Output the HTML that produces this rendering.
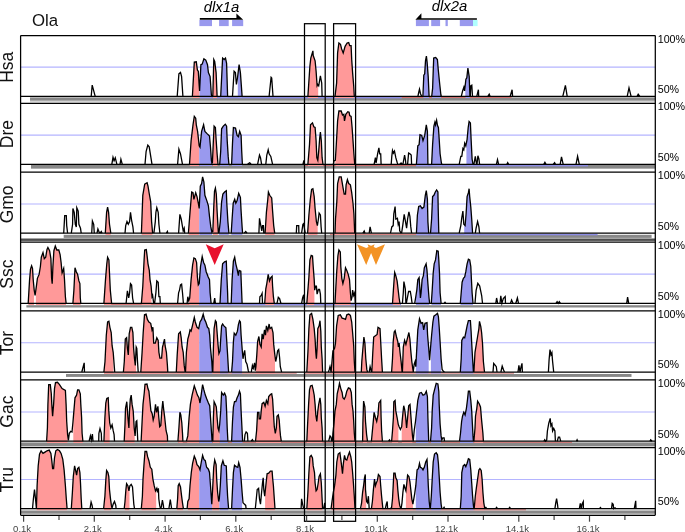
<!DOCTYPE html>
<html><head><meta charset="utf-8"><title>VISTA plot</title>
<style>html,body{margin:0;padding:0;background:#fff}svg{display:block;font-family:"Liberation Sans",Arial,Helvetica,sans-serif}</style></head>
<body>
<svg width="685" height="532" viewBox="0 0 685 532">
<rect width="685" height="532" fill="#fff"/>
<defs><clipPath id="c1k"><rect x="192.4" y="35.5" width="7.2" height="62.6"/><rect x="212.8" y="35.5" width="4.3" height="62.6"/><rect x="307.9" y="35.5" width="10.3" height="62.6"/><rect x="335.0" y="35.5" width="19.3" height="62.6"/></clipPath><clipPath id="c1b"><rect x="199.6" y="35.5" width="12.2" height="62.6"/><rect x="220.7" y="35.5" width="7.0" height="62.6"/><rect x="237.8" y="35.5" width="4.3" height="62.6"/><rect x="423.2" y="35.5" width="5.9" height="62.6"/><rect x="431.7" y="35.5" width="9.6" height="62.6"/><rect x="465.3" y="35.5" width="4.6" height="62.6"/></clipPath><clipPath id="c2k"><rect x="189.5" y="103.3" width="9.7" height="62.8"/><rect x="212.4" y="103.3" width="5.3" height="62.8"/><rect x="307.9" y="103.3" width="15.1" height="62.8"/><rect x="335.3" y="103.3" width="19.5" height="62.8"/></clipPath><clipPath id="c2b"><rect x="199.2" y="103.3" width="12.9" height="62.8"/><rect x="219.7" y="103.3" width="9.2" height="62.8"/><rect x="231.6" y="103.3" width="10.8" height="62.8"/><rect x="416.4" y="103.3" width="11.4" height="62.8"/><rect x="431.6" y="103.3" width="10.3" height="62.8"/><rect x="466.4" y="103.3" width="6.6" height="62.8"/></clipPath><clipPath id="c3k"><rect x="105.3" y="172.0" width="5.5" height="63.0"/><rect x="141.4" y="172.0" width="11.2" height="63.0"/><rect x="188.4" y="172.0" width="10.8" height="63.0"/><rect x="212.8" y="172.0" width="5.1" height="63.0"/><rect x="265.1" y="172.0" width="9.6" height="63.0"/><rect x="307.6" y="172.0" width="10.1" height="63.0"/><rect x="335.0" y="172.0" width="19.7" height="63.0"/></clipPath><clipPath id="c3b"><rect x="199.2" y="172.0" width="12.9" height="63.0"/><rect x="218.9" y="172.0" width="10.0" height="63.0"/><rect x="231.2" y="172.0" width="11.4" height="63.0"/><rect x="416.4" y="172.0" width="12.2" height="63.0"/><rect x="430.5" y="172.0" width="8.3" height="63.0"/><rect x="464.2" y="172.0" width="8.4" height="63.0"/></clipPath><clipPath id="c4k"><rect x="28.2" y="242.2" width="5.9" height="62.9"/><rect x="35.8" y="242.2" width="30.3" height="62.9"/><rect x="72.9" y="242.2" width="7.9" height="62.9"/><rect x="103.9" y="242.2" width="7.6" height="62.9"/><rect x="141.4" y="242.2" width="10.1" height="62.9"/><rect x="189.1" y="242.2" width="10.1" height="62.9"/><rect x="265.1" y="242.2" width="9.2" height="62.9"/><rect x="306.8" y="242.2" width="7.6" height="62.9"/><rect x="335.0" y="242.2" width="15.8" height="62.9"/><rect x="392.5" y="242.2" width="7.5" height="62.9"/></clipPath><clipPath id="c4b"><rect x="199.2" y="242.2" width="11.8" height="62.9"/><rect x="220.0" y="242.2" width="7.9" height="62.9"/><rect x="231.2" y="242.2" width="10.9" height="62.9"/><rect x="415.8" y="242.2" width="13.8" height="62.9"/><rect x="431.3" y="242.2" width="9.7" height="62.9"/><rect x="460.3" y="242.2" width="12.8" height="62.9"/></clipPath><clipPath id="c5k"><rect x="103.9" y="310.9" width="9.5" height="62.9"/><rect x="123.9" y="310.9" width="12.2" height="62.9"/><rect x="140.8" y="310.9" width="27.0" height="62.9"/><rect x="176.3" y="310.9" width="8.2" height="62.9"/><rect x="185.8" y="310.9" width="13.4" height="62.9"/><rect x="212.8" y="310.9" width="7.2" height="62.9"/><rect x="255.9" y="310.9" width="19.1" height="62.9"/><rect x="307.2" y="310.9" width="15.4" height="62.9"/><rect x="331.1" y="310.9" width="23.9" height="62.9"/><rect x="361.3" y="310.9" width="5.9" height="62.9"/><rect x="371.8" y="310.9" width="10.5" height="62.9"/><rect x="391.8" y="310.9" width="10.3" height="62.9"/><rect x="402.4" y="310.9" width="10.8" height="62.9"/><rect x="473.9" y="310.9" width="10.5" height="62.9"/></clipPath><clipPath id="c5b"><rect x="199.2" y="310.9" width="12.9" height="62.9"/><rect x="220.0" y="310.9" width="8.6" height="62.9"/><rect x="231.6" y="310.9" width="10.5" height="62.9"/><rect x="415.8" y="310.9" width="12.9" height="62.9"/><rect x="430.9" y="310.9" width="10.1" height="62.9"/><rect x="460.3" y="310.9" width="13.2" height="62.9"/></clipPath><clipPath id="c6k"><rect x="46.6" y="379.9" width="21.1" height="63.1"/><rect x="73.3" y="379.9" width="9.6" height="63.1"/><rect x="103.9" y="379.9" width="5.8" height="63.1"/><rect x="124.2" y="379.9" width="10.5" height="63.1"/><rect x="141.1" y="379.9" width="26.6" height="63.1"/><rect x="178.2" y="379.9" width="4.7" height="63.1"/><rect x="187.1" y="379.9" width="12.1" height="63.1"/><rect x="212.8" y="379.9" width="7.0" height="63.1"/><rect x="255.9" y="379.9" width="25.1" height="63.1"/><rect x="306.8" y="379.9" width="15.8" height="63.1"/><rect x="332.6" y="379.9" width="22.4" height="63.1"/><rect x="362.9" y="379.9" width="4.2" height="63.1"/><rect x="371.8" y="379.9" width="10.1" height="63.1"/><rect x="391.8" y="379.9" width="6.6" height="63.1"/><rect x="401.7" y="379.9" width="10.9" height="63.1"/><rect x="474.2" y="379.9" width="9.2" height="63.1"/></clipPath><clipPath id="c6b"><rect x="199.2" y="379.9" width="12.9" height="63.1"/><rect x="219.7" y="379.9" width="8.2" height="63.1"/><rect x="231.6" y="379.9" width="11.1" height="63.1"/><rect x="415.8" y="379.9" width="12.9" height="63.1"/><rect x="430.9" y="379.9" width="10.1" height="63.1"/><rect x="459.9" y="379.9" width="13.6" height="63.1"/></clipPath><clipPath id="c7k"><rect x="36.4" y="447.7" width="30.7" height="62.8"/><rect x="71.3" y="447.7" width="10.5" height="62.8"/><rect x="103.9" y="447.7" width="7.5" height="62.8"/><rect x="124.6" y="447.7" width="4.9" height="62.8"/><rect x="141.3" y="447.7" width="14.9" height="62.8"/><rect x="176.8" y="447.7" width="6.3" height="62.8"/><rect x="187.8" y="447.7" width="11.4" height="62.8"/><rect x="212.1" y="447.7" width="7.2" height="62.8"/><rect x="265.1" y="447.7" width="9.9" height="62.8"/><rect x="306.8" y="447.7" width="15.8" height="62.8"/><rect x="331.3" y="447.7" width="23.7" height="62.8"/><rect x="361.6" y="447.7" width="4.6" height="62.8"/><rect x="371.8" y="447.7" width="10.5" height="62.8"/><rect x="391.8" y="447.7" width="7.9" height="62.8"/><rect x="405.9" y="447.7" width="7.0" height="62.8"/><rect x="474.6" y="447.7" width="9.9" height="62.8"/></clipPath><clipPath id="c7b"><rect x="199.2" y="447.7" width="12.9" height="62.8"/><rect x="219.3" y="447.7" width="9.2" height="62.8"/><rect x="231.6" y="447.7" width="10.5" height="62.8"/><rect x="415.8" y="447.7" width="13.9" height="62.8"/><rect x="430.5" y="447.7" width="10.8" height="62.8"/><rect x="460.3" y="447.7" width="13.4" height="62.8"/></clipPath></defs>
<rect x="30.0" y="97.4" width="625.3" height="3.4" fill="#888"/>
<rect x="30.0" y="100.8" width="625.3" height="1.6" fill="#d4d4d4"/>
<rect x="31.0" y="164.9" width="624.3" height="3.1" fill="#888"/>
<rect x="31.0" y="168.0" width="624.3" height="0.9" fill="#a8a8a8"/>
<rect x="63.7" y="234.8" width="587.9" height="3.1" fill="#888"/>
<rect x="20.6" y="238.5" width="634.7" height="2.4" fill="#4c4c4c"/>
<rect x="26.4" y="305.2" width="628.9" height="2.3" fill="#888"/>
<rect x="66.0" y="374.0" width="565.5" height="2.9" fill="#888"/>
<rect x="20.6" y="441.8" width="634.7" height="0.8" fill="#ccc"/>
<rect x="20.6" y="442.6" width="634.7" height="3.4" fill="#888"/>
<rect x="20.6" y="446.0" width="634.7" height="0.9" fill="#ccc"/>
<rect x="20.6" y="509.6" width="634.7" height="1.0" fill="#ddd"/>
<rect x="20.6" y="510.6" width="634.7" height="3.2" fill="#888"/>
<rect x="20.6" y="513.8" width="634.7" height="0.7" fill="#ccc"/>
<rect x="200.0" y="96.9" width="201.7" height="1.5" fill="#8c8ce4"/>
<rect x="401.7" y="96.9" width="109.8" height="1.0" fill="#d26a6a"/>
<rect x="303.8" y="164.9" width="112.2" height="1.0" fill="#d26a6a"/>
<rect x="416.0" y="164.9" width="172.0" height="1.5" fill="#8c8ce4"/>
<rect x="330.0" y="233.8" width="86.4" height="1.0" fill="#d26a6a"/>
<rect x="416.4" y="233.8" width="181.2" height="1.5" fill="#8c8ce4"/>
<rect x="104.0" y="303.9" width="95.0" height="1.0" fill="#d26a6a"/>
<rect x="199.0" y="303.9" width="202.0" height="1.5" fill="#8c8ce4"/>
<rect x="104.0" y="372.6" width="192.7" height="1.0" fill="#d26a6a"/>
<rect x="305.0" y="372.6" width="209.0" height="1.0" fill="#d26a6a"/>
<rect x="178.0" y="441.8" width="394.0" height="1.0" fill="#d26a6a"/>
<rect x="360.0" y="509.3" width="166.0" height="1.0" fill="#d26a6a"/>
<line x1="20.6" x2="655.3" y1="67.1" y2="67.1" stroke="#b4b4ff" stroke-width="1.1"/>
<g clip-path="url(#c1k)" fill="#ff9999"><path d="M91.2 96.3L91.2 96.3L92.2 85.1L95.2 96.3L95.2 96.3ZM177.2 96.3L177.2 96.3L178.9 73.9L180.5 72.4L181.6 76.6L182.9 96.3L182.9 96.3ZM192.4 96.3L192.4 96.3L194.3 62.1L196.3 61.8L197.4 70.0L198.3 71.3L199.2 85.8L199.6 91.0L200.9 64.7L202.2 64.1L203.9 58.8L205.8 60.1L207.5 64.7L208.4 72.6L210.1 76.6L211.4 95.0L211.8 96.3L211.8 96.3ZM212.8 96.3L212.8 96.3L213.8 59.5L214.7 61.4L216.1 72.6L217.1 96.3L217.1 96.3ZM220.7 96.3L220.7 96.3L222.6 58.1L224.2 59.5L225.5 58.1L226.6 63.4L227.6 96.3L227.6 96.3ZM232.5 96.3L232.5 96.3L234.1 71.3L235.4 72.6L236.4 84.5L237.4 78.5L239.1 64.7L240.4 72.6L242.1 96.3L242.1 96.3ZM269.1 96.3L269.1 96.3L271.1 77.2L271.7 77.9L273.0 96.3L273.0 96.3ZM307.9 96.3L307.9 96.3L309.9 66.0L310.8 58.1L312.9 50.9L313.2 55.5L315.1 60.8L316.1 71.3L317.1 85.8L317.8 84.5L318.7 85.8L320.4 75.9L321.7 83.1L322.1 96.3L322.1 96.3ZM335.0 96.3L335.0 96.3L336.6 83.1L337.6 52.9L338.9 43.0L340.5 44.3L341.6 48.9L343.2 52.9L345.1 46.3L347.1 43.0L348.7 42.6L349.7 45.6L351.1 45.6L351.7 59.5L352.6 72.6L353.7 85.8L354.3 96.3L354.3 96.3ZM417.9 96.3L417.9 96.3L418.6 93.0L419.5 89.1L420.5 93.7L421.6 96.3L421.6 96.3ZM422.9 96.3L422.9 96.3L423.8 75.2L424.7 73.9L425.5 60.8L426.4 56.2L427.1 62.1L428.2 76.6L429.1 96.3L429.1 96.3ZM431.7 96.3L431.7 96.3L432.6 88.4L433.7 58.1L435.7 57.5L437.4 59.5L438.3 70.0L439.6 83.1L440.9 95.0L441.3 96.3L441.3 96.3ZM461.3 96.3L461.3 96.3L462.6 91.0L463.9 87.1L464.6 91.0L465.9 79.2L466.8 77.9L467.9 68.0L469.2 76.6L469.9 96.3L470.3 96.3L470.8 85.8L471.8 85.1L472.5 96.3L472.5 96.3ZM476.8 96.3L476.8 96.3L478.4 89.7L478.7 96.3L478.7 96.3ZM487.9 96.3L487.9 96.3L489.2 94.2L490.0 96.3L490.0 96.3ZM510.2 96.3L510.2 96.3L512.1 89.7L512.6 96.3L512.6 96.3ZM562.8 96.3L562.8 96.3L565.4 85.3L567.2 96.3L567.2 96.3ZM627.2 96.3L627.2 96.3L629.0 87.9L631.1 96.3L631.1 96.3ZM637.1 96.3L637.1 96.3L638.2 94.2L639.8 96.3L639.8 96.3Z"/><rect x="192.4" y="96.3" width="7.2" height="1.8"/><rect x="212.8" y="96.3" width="4.3" height="1.8"/><rect x="307.9" y="96.3" width="10.3" height="1.8"/><rect x="335.0" y="96.3" width="19.3" height="1.8"/></g>
<g clip-path="url(#c1b)" fill="#9999ee"><path d="M91.2 96.3L91.2 96.3L92.2 85.1L95.2 96.3L95.2 96.3ZM177.2 96.3L177.2 96.3L178.9 73.9L180.5 72.4L181.6 76.6L182.9 96.3L182.9 96.3ZM192.4 96.3L192.4 96.3L194.3 62.1L196.3 61.8L197.4 70.0L198.3 71.3L199.2 85.8L199.6 91.0L200.9 64.7L202.2 64.1L203.9 58.8L205.8 60.1L207.5 64.7L208.4 72.6L210.1 76.6L211.4 95.0L211.8 96.3L211.8 96.3ZM212.8 96.3L212.8 96.3L213.8 59.5L214.7 61.4L216.1 72.6L217.1 96.3L217.1 96.3ZM220.7 96.3L220.7 96.3L222.6 58.1L224.2 59.5L225.5 58.1L226.6 63.4L227.6 96.3L227.6 96.3ZM232.5 96.3L232.5 96.3L234.1 71.3L235.4 72.6L236.4 84.5L237.4 78.5L239.1 64.7L240.4 72.6L242.1 96.3L242.1 96.3ZM269.1 96.3L269.1 96.3L271.1 77.2L271.7 77.9L273.0 96.3L273.0 96.3ZM307.9 96.3L307.9 96.3L309.9 66.0L310.8 58.1L312.9 50.9L313.2 55.5L315.1 60.8L316.1 71.3L317.1 85.8L317.8 84.5L318.7 85.8L320.4 75.9L321.7 83.1L322.1 96.3L322.1 96.3ZM335.0 96.3L335.0 96.3L336.6 83.1L337.6 52.9L338.9 43.0L340.5 44.3L341.6 48.9L343.2 52.9L345.1 46.3L347.1 43.0L348.7 42.6L349.7 45.6L351.1 45.6L351.7 59.5L352.6 72.6L353.7 85.8L354.3 96.3L354.3 96.3ZM417.9 96.3L417.9 96.3L418.6 93.0L419.5 89.1L420.5 93.7L421.6 96.3L421.6 96.3ZM422.9 96.3L422.9 96.3L423.8 75.2L424.7 73.9L425.5 60.8L426.4 56.2L427.1 62.1L428.2 76.6L429.1 96.3L429.1 96.3ZM431.7 96.3L431.7 96.3L432.6 88.4L433.7 58.1L435.7 57.5L437.4 59.5L438.3 70.0L439.6 83.1L440.9 95.0L441.3 96.3L441.3 96.3ZM461.3 96.3L461.3 96.3L462.6 91.0L463.9 87.1L464.6 91.0L465.9 79.2L466.8 77.9L467.9 68.0L469.2 76.6L469.9 96.3L470.3 96.3L470.8 85.8L471.8 85.1L472.5 96.3L472.5 96.3ZM476.8 96.3L476.8 96.3L478.4 89.7L478.7 96.3L478.7 96.3ZM487.9 96.3L487.9 96.3L489.2 94.2L490.0 96.3L490.0 96.3ZM510.2 96.3L510.2 96.3L512.1 89.7L512.6 96.3L512.6 96.3ZM562.8 96.3L562.8 96.3L565.4 85.3L567.2 96.3L567.2 96.3ZM627.2 96.3L627.2 96.3L629.0 87.9L631.1 96.3L631.1 96.3ZM637.1 96.3L637.1 96.3L638.2 94.2L639.8 96.3L639.8 96.3Z"/><rect x="199.6" y="96.3" width="12.2" height="1.8"/><rect x="220.7" y="96.3" width="7.0" height="1.8"/><rect x="237.8" y="96.3" width="4.3" height="1.8"/><rect x="423.2" y="96.3" width="5.9" height="1.8"/><rect x="431.7" y="96.3" width="9.6" height="1.8"/><rect x="465.3" y="96.3" width="4.6" height="1.8"/></g>
<path d="M91.2 96.3L92.2 85.1L95.2 96.3M177.2 96.3L178.9 73.9L180.5 72.4L181.6 76.6L182.9 96.3M192.4 96.3L194.3 62.1L196.3 61.8L197.4 70.0L198.3 71.3L199.2 85.8L199.6 91.0L200.9 64.7L202.2 64.1L203.9 58.8L205.8 60.1L207.5 64.7L208.4 72.6L210.1 76.6L211.4 95.0L211.8 96.3M212.8 96.3L213.8 59.5L214.7 61.4L216.1 72.6L217.1 96.3M220.7 96.3L222.6 58.1L224.2 59.5L225.5 58.1L226.6 63.4L227.6 96.3M232.5 96.3L234.1 71.3L235.4 72.6L236.4 84.5L237.4 78.5L239.1 64.7L240.4 72.6L242.1 96.3M269.1 96.3L271.1 77.2L271.7 77.9L273.0 96.3M307.9 96.3L309.9 66.0L310.8 58.1L312.9 50.9L313.2 55.5L315.1 60.8L316.1 71.3L317.1 85.8L317.8 84.5L318.7 85.8L320.4 75.9L321.7 83.1L322.1 96.3M335.0 96.3L336.6 83.1L337.6 52.9L338.9 43.0L340.5 44.3L341.6 48.9L343.2 52.9L345.1 46.3L347.1 43.0L348.7 42.6L349.7 45.6L351.1 45.6L351.7 59.5L352.6 72.6L353.7 85.8L354.3 96.3M417.9 96.3L418.6 93.0L419.5 89.1L420.5 93.7L421.6 96.3M422.9 96.3L423.8 75.2L424.7 73.9L425.5 60.8L426.4 56.2L427.1 62.1L428.2 76.6L429.1 96.3M431.7 96.3L432.6 88.4L433.7 58.1L435.7 57.5L437.4 59.5L438.3 70.0L439.6 83.1L440.9 95.0L441.3 96.3M461.3 96.3L462.6 91.0L463.9 87.1L464.6 91.0L465.9 79.2L466.8 77.9L467.9 68.0L469.2 76.6L469.9 96.3L470.3 96.3L470.8 85.8L471.8 85.1L472.5 96.3M476.8 96.3L478.4 89.7L478.7 96.3M487.9 96.3L489.2 94.2L490.0 96.3M510.2 96.3L512.1 89.7L512.6 96.3M562.8 96.3L565.4 85.3L567.2 96.3M627.2 96.3L629.0 87.9L631.1 96.3M637.1 96.3L638.2 94.2L639.8 96.3" fill="none" stroke="#000" stroke-width="1.3" stroke-linejoin="miter" stroke-miterlimit="5"/>
<line x1="20.6" x2="655.3" y1="135.1" y2="135.1" stroke="#b4b4ff" stroke-width="1.1"/>
<g clip-path="url(#c2k)" fill="#ff9999"><path d="M111.8 164.3L111.8 164.3L113.0 157.3L114.1 160.8L115.3 157.8L116.9 164.3L116.9 164.3ZM120.0 164.3L120.0 164.3L120.9 159.2L122.3 164.3L122.3 164.3ZM145.0 164.3L145.0 164.3L146.1 151.5L147.8 145.1L149.2 146.8L152.0 164.3L152.0 164.3ZM177.6 164.3L177.6 164.3L178.9 149.2L180.5 153.8L182.5 164.3L182.5 164.3ZM189.5 164.3L189.5 164.3L191.1 140.6L193.0 124.8L194.3 116.3L195.7 118.2L196.3 124.8L197.6 131.4L199.2 145.9L200.0 147.2L201.6 131.4L203.6 124.8L204.9 131.4L206.8 133.4L209.5 136.0L210.5 147.2L211.4 160.4L212.1 164.3L212.1 164.3ZM212.4 164.3L212.4 163.0L213.2 144.6L214.1 126.1L215.4 127.5L216.1 139.3L217.1 153.8L218.0 164.3L218.0 164.3ZM219.7 164.3L219.7 164.3L220.7 151.1L221.6 128.8L223.3 126.1L225.3 124.2L226.6 126.1L227.2 140.6L228.2 156.4L228.9 164.3L228.9 164.3ZM231.6 164.3L231.6 164.3L232.5 143.2L233.4 127.5L235.5 128.1L237.1 135.4L238.4 136.7L239.7 131.4L241.1 135.4L241.7 151.1L242.4 164.3L242.4 164.3ZM247.6 164.3L247.6 164.3L249.6 162.7L250.0 163.0L250.0 164.3ZM250.0 164.3L250.0 163.0L251.1 164.3L251.1 164.3ZM257.6 164.3L257.6 164.3L259.5 155.1L260.5 157.7L261.6 164.3L261.6 164.3ZM265.8 164.3L265.8 164.3L266.8 155.1L268.2 149.8L269.1 153.8L270.8 156.4L272.6 164.3L272.6 164.3ZM302.9 164.3L302.9 164.3L303.9 160.4L304.2 164.3L304.2 164.3ZM307.9 164.3L307.9 164.3L309.5 144.6L310.5 124.8L312.5 122.9L313.8 126.8L315.1 127.5L316.1 140.6L316.8 157.7L317.8 160.4L318.7 151.1L319.7 138.0L320.4 132.1L321.3 140.6L322.1 157.7L323.0 164.3L323.0 164.3ZM333.3 164.3L333.3 164.3L333.9 161.0L335.3 160.4L336.3 144.6L337.6 120.9L338.9 111.0L341.2 111.0L342.5 115.0L343.8 114.3L344.5 120.9L345.8 114.3L347.8 111.7L349.1 112.3L349.7 115.6L351.1 116.3L352.1 127.5L353.0 140.6L353.9 153.8L354.7 164.3L354.7 164.3ZM374.1 164.3L374.1 164.3L375.4 157.7L376.1 163.0L377.6 153.8L378.9 147.9L379.7 153.8L380.7 153.8L381.1 164.3L381.1 164.3ZM391.2 164.3L391.2 164.3L391.8 156.4L392.5 150.5L393.4 153.1L394.5 151.1L395.8 157.7L397.1 162.3L397.8 164.3L397.8 164.3ZM399.7 164.3L399.7 164.3L401.1 163.0L402.1 164.3L402.1 164.3ZM402.9 164.3L402.9 164.3L404.6 155.1L405.5 160.4L405.9 164.3L405.9 164.3ZM407.6 164.3L407.6 164.3L408.6 153.1L409.9 153.8L411.2 155.1L411.6 164.3L411.6 164.3ZM416.4 164.3L416.4 164.3L417.8 145.9L419.1 144.6L420.0 134.7L421.7 135.4L423.0 140.6L424.7 135.4L426.3 124.8L427.4 131.4L427.9 164.3L427.9 164.3ZM431.6 164.3L431.6 164.3L432.6 144.6L433.9 126.1L434.9 122.2L435.5 124.8L436.6 120.2L437.5 125.5L438.4 127.5L439.2 139.3L440.1 153.8L441.4 163.0L441.8 164.3L441.8 164.3ZM459.2 164.3L459.2 164.3L460.8 156.4L461.8 156.4L462.9 148.5L463.8 149.8L464.7 143.2L465.8 145.9L467.1 139.3L468.2 127.5L469.1 121.5L470.4 122.9L471.1 139.3L472.1 159.0L473.0 164.3L473.0 164.3ZM473.9 164.3L473.9 164.3L475.3 156.4L476.1 161.7L476.6 164.3L476.6 164.3ZM477.0 164.3L477.0 164.3L477.9 155.7L478.9 159.0L479.6 164.3L479.6 164.3ZM496.4 164.3L496.4 164.3L497.5 159.6L498.6 164.3L498.6 164.3ZM506.9 164.3L506.9 164.3L507.7 162.6L508.6 164.3L508.6 164.3ZM543.8 164.3L543.8 164.3L544.9 162.4L546.0 164.3L546.0 164.3ZM553.2 164.3L553.2 164.3L554.6 162.6L555.4 164.3L555.4 164.3ZM560.2 164.3L560.2 164.3L561.5 156.8L563.2 164.3L563.2 164.3ZM576.0 164.3L576.0 164.3L577.6 156.3L579.3 164.3L579.3 164.3Z"/><rect x="189.5" y="164.3" width="9.7" height="1.8"/><rect x="212.4" y="164.3" width="5.3" height="1.8"/><rect x="307.9" y="164.3" width="15.1" height="1.8"/><rect x="335.3" y="164.3" width="19.5" height="1.8"/></g>
<g clip-path="url(#c2b)" fill="#9999ee"><path d="M111.8 164.3L111.8 164.3L113.0 157.3L114.1 160.8L115.3 157.8L116.9 164.3L116.9 164.3ZM120.0 164.3L120.0 164.3L120.9 159.2L122.3 164.3L122.3 164.3ZM145.0 164.3L145.0 164.3L146.1 151.5L147.8 145.1L149.2 146.8L152.0 164.3L152.0 164.3ZM177.6 164.3L177.6 164.3L178.9 149.2L180.5 153.8L182.5 164.3L182.5 164.3ZM189.5 164.3L189.5 164.3L191.1 140.6L193.0 124.8L194.3 116.3L195.7 118.2L196.3 124.8L197.6 131.4L199.2 145.9L200.0 147.2L201.6 131.4L203.6 124.8L204.9 131.4L206.8 133.4L209.5 136.0L210.5 147.2L211.4 160.4L212.1 164.3L212.1 164.3ZM212.4 164.3L212.4 163.0L213.2 144.6L214.1 126.1L215.4 127.5L216.1 139.3L217.1 153.8L218.0 164.3L218.0 164.3ZM219.7 164.3L219.7 164.3L220.7 151.1L221.6 128.8L223.3 126.1L225.3 124.2L226.6 126.1L227.2 140.6L228.2 156.4L228.9 164.3L228.9 164.3ZM231.6 164.3L231.6 164.3L232.5 143.2L233.4 127.5L235.5 128.1L237.1 135.4L238.4 136.7L239.7 131.4L241.1 135.4L241.7 151.1L242.4 164.3L242.4 164.3ZM247.6 164.3L247.6 164.3L249.6 162.7L250.0 163.0L250.0 164.3ZM250.0 164.3L250.0 163.0L251.1 164.3L251.1 164.3ZM257.6 164.3L257.6 164.3L259.5 155.1L260.5 157.7L261.6 164.3L261.6 164.3ZM265.8 164.3L265.8 164.3L266.8 155.1L268.2 149.8L269.1 153.8L270.8 156.4L272.6 164.3L272.6 164.3ZM302.9 164.3L302.9 164.3L303.9 160.4L304.2 164.3L304.2 164.3ZM307.9 164.3L307.9 164.3L309.5 144.6L310.5 124.8L312.5 122.9L313.8 126.8L315.1 127.5L316.1 140.6L316.8 157.7L317.8 160.4L318.7 151.1L319.7 138.0L320.4 132.1L321.3 140.6L322.1 157.7L323.0 164.3L323.0 164.3ZM333.3 164.3L333.3 164.3L333.9 161.0L335.3 160.4L336.3 144.6L337.6 120.9L338.9 111.0L341.2 111.0L342.5 115.0L343.8 114.3L344.5 120.9L345.8 114.3L347.8 111.7L349.1 112.3L349.7 115.6L351.1 116.3L352.1 127.5L353.0 140.6L353.9 153.8L354.7 164.3L354.7 164.3ZM374.1 164.3L374.1 164.3L375.4 157.7L376.1 163.0L377.6 153.8L378.9 147.9L379.7 153.8L380.7 153.8L381.1 164.3L381.1 164.3ZM391.2 164.3L391.2 164.3L391.8 156.4L392.5 150.5L393.4 153.1L394.5 151.1L395.8 157.7L397.1 162.3L397.8 164.3L397.8 164.3ZM399.7 164.3L399.7 164.3L401.1 163.0L402.1 164.3L402.1 164.3ZM402.9 164.3L402.9 164.3L404.6 155.1L405.5 160.4L405.9 164.3L405.9 164.3ZM407.6 164.3L407.6 164.3L408.6 153.1L409.9 153.8L411.2 155.1L411.6 164.3L411.6 164.3ZM416.4 164.3L416.4 164.3L417.8 145.9L419.1 144.6L420.0 134.7L421.7 135.4L423.0 140.6L424.7 135.4L426.3 124.8L427.4 131.4L427.9 164.3L427.9 164.3ZM431.6 164.3L431.6 164.3L432.6 144.6L433.9 126.1L434.9 122.2L435.5 124.8L436.6 120.2L437.5 125.5L438.4 127.5L439.2 139.3L440.1 153.8L441.4 163.0L441.8 164.3L441.8 164.3ZM459.2 164.3L459.2 164.3L460.8 156.4L461.8 156.4L462.9 148.5L463.8 149.8L464.7 143.2L465.8 145.9L467.1 139.3L468.2 127.5L469.1 121.5L470.4 122.9L471.1 139.3L472.1 159.0L473.0 164.3L473.0 164.3ZM473.9 164.3L473.9 164.3L475.3 156.4L476.1 161.7L476.6 164.3L476.6 164.3ZM477.0 164.3L477.0 164.3L477.9 155.7L478.9 159.0L479.6 164.3L479.6 164.3ZM496.4 164.3L496.4 164.3L497.5 159.6L498.6 164.3L498.6 164.3ZM506.9 164.3L506.9 164.3L507.7 162.6L508.6 164.3L508.6 164.3ZM543.8 164.3L543.8 164.3L544.9 162.4L546.0 164.3L546.0 164.3ZM553.2 164.3L553.2 164.3L554.6 162.6L555.4 164.3L555.4 164.3ZM560.2 164.3L560.2 164.3L561.5 156.8L563.2 164.3L563.2 164.3ZM576.0 164.3L576.0 164.3L577.6 156.3L579.3 164.3L579.3 164.3Z"/><rect x="199.2" y="164.3" width="12.9" height="1.8"/><rect x="219.7" y="164.3" width="9.2" height="1.8"/><rect x="231.6" y="164.3" width="10.8" height="1.8"/><rect x="416.4" y="164.3" width="11.4" height="1.8"/><rect x="431.6" y="164.3" width="10.3" height="1.8"/><rect x="466.4" y="164.3" width="6.6" height="1.8"/></g>
<path d="M111.8 164.3L113.0 157.3L114.1 160.8L115.3 157.8L116.9 164.3M120.0 164.3L120.9 159.2L122.3 164.3M145.0 164.3L146.1 151.5L147.8 145.1L149.2 146.8L152.0 164.3M177.6 164.3L178.9 149.2L180.5 153.8L182.5 164.3M189.5 164.3L191.1 140.6L193.0 124.8L194.3 116.3L195.7 118.2L196.3 124.8L197.6 131.4L199.2 145.9L200.0 147.2L201.6 131.4L203.6 124.8L204.9 131.4L206.8 133.4L209.5 136.0L210.5 147.2L211.4 160.4L212.1 164.3M212.4 163.0L213.2 144.6L214.1 126.1L215.4 127.5L216.1 139.3L217.1 153.8L218.0 164.3M219.7 164.3L220.7 151.1L221.6 128.8L223.3 126.1L225.3 124.2L226.6 126.1L227.2 140.6L228.2 156.4L228.9 164.3M231.6 164.3L232.5 143.2L233.4 127.5L235.5 128.1L237.1 135.4L238.4 136.7L239.7 131.4L241.1 135.4L241.7 151.1L242.4 164.3M247.6 164.3L249.6 162.7L250.0 163.0M250.0 163.0L251.1 164.3M257.6 164.3L259.5 155.1L260.5 157.7L261.6 164.3M265.8 164.3L266.8 155.1L268.2 149.8L269.1 153.8L270.8 156.4L272.6 164.3M302.9 164.3L303.9 160.4L304.2 164.3M307.9 164.3L309.5 144.6L310.5 124.8L312.5 122.9L313.8 126.8L315.1 127.5L316.1 140.6L316.8 157.7L317.8 160.4L318.7 151.1L319.7 138.0L320.4 132.1L321.3 140.6L322.1 157.7L323.0 164.3M333.3 164.3L333.9 161.0L335.3 160.4L336.3 144.6L337.6 120.9L338.9 111.0L341.2 111.0L342.5 115.0L343.8 114.3L344.5 120.9L345.8 114.3L347.8 111.7L349.1 112.3L349.7 115.6L351.1 116.3L352.1 127.5L353.0 140.6L353.9 153.8L354.7 164.3M374.1 164.3L375.4 157.7L376.1 163.0L377.6 153.8L378.9 147.9L379.7 153.8L380.7 153.8L381.1 164.3M391.2 164.3L391.8 156.4L392.5 150.5L393.4 153.1L394.5 151.1L395.8 157.7L397.1 162.3L397.8 164.3M399.7 164.3L401.1 163.0L402.1 164.3M402.9 164.3L404.6 155.1L405.5 160.4L405.9 164.3M407.6 164.3L408.6 153.1L409.9 153.8L411.2 155.1L411.6 164.3M416.4 164.3L417.8 145.9L419.1 144.6L420.0 134.7L421.7 135.4L423.0 140.6L424.7 135.4L426.3 124.8L427.4 131.4L427.9 164.3M431.6 164.3L432.6 144.6L433.9 126.1L434.9 122.2L435.5 124.8L436.6 120.2L437.5 125.5L438.4 127.5L439.2 139.3L440.1 153.8L441.4 163.0L441.8 164.3M459.2 164.3L460.8 156.4L461.8 156.4L462.9 148.5L463.8 149.8L464.7 143.2L465.8 145.9L467.1 139.3L468.2 127.5L469.1 121.5L470.4 122.9L471.1 139.3L472.1 159.0L473.0 164.3M473.9 164.3L475.3 156.4L476.1 161.7L476.6 164.3M477.0 164.3L477.9 155.7L478.9 159.0L479.6 164.3M496.4 164.3L497.5 159.6L498.6 164.3M506.9 164.3L507.7 162.6L508.6 164.3M543.8 164.3L544.9 162.4L546.0 164.3M553.2 164.3L554.6 162.6L555.4 164.3M560.2 164.3L561.5 156.8L563.2 164.3M576.0 164.3L577.6 156.3L579.3 164.3" fill="none" stroke="#000" stroke-width="1.3" stroke-linejoin="miter" stroke-miterlimit="5"/>
<line x1="20.6" x2="655.3" y1="204.0" y2="204.0" stroke="#b4b4ff" stroke-width="1.1"/>
<g clip-path="url(#c3k)" fill="#ff9999"><path d="M63.7 233.2L63.7 233.2L64.7 215.7L66.3 215.7L66.7 225.6L67.6 233.2L67.6 233.2ZM71.3 233.2L71.3 233.2L72.6 224.3L72.9 208.5L74.2 212.4L75.3 224.3L76.3 226.9L76.8 207.8L78.2 211.1L78.9 224.3L80.5 228.2L81.2 233.2L81.2 233.2ZM91.7 233.2L91.7 233.2L92.4 221.0L93.7 224.3L94.3 233.2L94.3 233.2ZM97.0 233.2L97.0 233.2L97.9 228.9L99.6 233.2L99.6 233.2ZM100.0 233.2L100.0 233.2L101.3 231.5L102.0 233.2L102.0 233.2ZM105.3 233.2L105.3 233.2L106.6 212.4L107.6 207.1L108.6 212.4L109.5 224.3L110.8 233.2L110.8 233.2ZM125.0 233.2L125.0 233.2L125.7 225.6L127.0 221.6L128.3 224.3L129.6 221.6L130.5 212.4L131.6 220.3L132.9 226.9L133.6 233.2L133.6 233.2ZM141.4 233.2L141.4 233.2L142.8 195.3L144.7 184.1L147.1 182.8L148.0 186.1L149.3 194.0L150.7 201.9L151.6 221.6L152.6 233.2L152.6 233.2ZM153.9 233.2L153.9 233.2L155.3 221.6L155.9 212.4L156.8 207.8L158.2 212.4L158.9 224.3L159.9 233.2L159.9 233.2ZM166.4 233.2L166.4 233.2L167.4 231.5L167.8 233.2L167.8 233.2ZM178.6 233.2L178.6 233.2L179.9 214.4L181.2 219.0L182.1 224.3L183.2 230.8L184.2 228.2L184.7 233.2L184.7 233.2ZM188.4 233.2L188.4 233.2L190.0 212.4L191.7 192.0L193.0 192.7L193.9 199.3L195.7 192.7L197.0 196.6L198.3 203.2L199.2 208.5L200.3 186.1L201.6 183.5L202.6 176.9L203.9 182.1L204.9 195.3L206.8 200.6L208.4 205.8L209.5 216.4L210.8 226.9L212.1 233.2L212.1 233.2ZM212.8 233.2L212.8 232.1L213.7 208.5L214.5 191.4L215.4 188.1L216.3 194.0L217.1 211.1L218.0 226.9L218.4 233.2L218.4 233.2ZM218.9 233.2L218.9 233.2L220.3 221.6L221.6 201.9L222.9 194.0L224.6 192.0L226.3 190.7L226.8 203.2L227.9 221.6L228.9 233.2L228.9 233.2ZM231.2 233.2L231.2 233.2L232.1 219.0L233.2 203.2L234.7 199.3L235.8 203.2L237.1 200.6L238.7 193.3L240.4 197.3L241.1 211.1L242.1 226.9L242.6 233.2L242.6 233.2ZM244.3 233.2L244.3 233.2L245.7 231.5L247.0 233.2L247.0 233.2ZM258.9 233.2L258.9 233.2L259.5 218.3L260.8 225.6L261.8 230.8L262.5 225.6L263.4 225.6L263.8 233.2L263.8 233.2ZM265.1 233.2L265.1 233.2L266.4 212.4L267.8 199.3L268.4 192.0L269.7 195.3L271.7 197.9L272.6 211.1L273.7 225.6L274.7 233.2L274.7 233.2ZM296.3 233.2L296.3 233.2L296.7 225.6L298.7 225.6L298.9 233.2L298.9 233.2ZM301.6 233.2L301.6 233.2L302.9 224.3L303.7 223.6L304.6 229.5L305.3 233.2L305.3 233.2ZM307.6 233.2L307.6 233.2L308.9 215.0L310.3 199.3L311.6 189.4L312.9 188.7L314.2 196.6L315.1 208.5L316.4 221.6L317.4 225.6L318.4 219.0L319.1 213.1L320.4 215.0L321.1 226.9L321.7 233.2L321.7 233.2ZM335.0 233.2L335.0 233.2L335.5 219.0L336.8 201.9L337.6 183.5L339.2 176.9L341.2 176.9L342.1 182.1L343.2 188.7L344.2 194.0L345.5 194.0L346.1 184.8L347.4 179.5L348.7 183.5L350.4 184.8L351.7 192.7L353.0 203.2L353.9 213.7L354.7 233.2L354.7 233.2ZM362.9 233.2L362.9 233.2L364.2 231.1L364.9 233.2L364.9 233.2ZM369.2 233.2L369.2 233.2L370.1 226.9L371.4 233.2L371.4 233.2ZM390.5 233.2L390.5 233.2L391.8 226.9L393.2 225.6L393.8 213.7L395.1 206.5L395.8 219.0L397.4 218.3L398.2 224.3L399.1 221.6L399.7 230.8L401.1 233.2L401.1 233.2ZM401.6 233.2L401.6 233.2L402.9 224.3L404.2 214.4L405.5 221.6L406.6 228.2L407.6 219.0L408.9 211.8L409.9 216.4L410.8 226.9L411.6 233.2L411.6 233.2ZM416.4 233.2L416.4 233.2L417.4 215.0L418.7 206.5L420.4 205.8L422.1 208.5L423.9 207.1L425.3 195.3L426.3 190.7L427.4 199.3L427.9 221.6L428.7 233.2L428.7 233.2ZM430.5 233.2L430.5 233.2L431.6 219.0L432.6 196.6L433.9 195.3L435.3 192.0L436.6 190.0L437.9 192.0L438.2 208.5L438.8 233.2L438.8 233.2ZM459.2 233.2L459.2 233.2L460.8 225.6L461.8 217.7L462.9 211.1L463.8 224.3L465.1 225.6L466.1 213.7L467.1 196.6L468.4 192.7L469.1 188.7L469.7 196.6L470.8 207.1L471.7 219.0L472.6 233.2L472.6 233.2ZM475.3 233.2L475.3 233.2L476.1 228.2L477.6 221.6L478.9 226.9L479.6 233.2L479.6 233.2Z"/><rect x="105.3" y="233.2" width="5.5" height="1.8"/><rect x="141.4" y="233.2" width="11.2" height="1.8"/><rect x="188.4" y="233.2" width="10.8" height="1.8"/><rect x="212.8" y="233.2" width="5.1" height="1.8"/><rect x="265.1" y="233.2" width="9.6" height="1.8"/><rect x="307.6" y="233.2" width="10.1" height="1.8"/><rect x="335.0" y="233.2" width="19.7" height="1.8"/></g>
<g clip-path="url(#c3b)" fill="#9999ee"><path d="M63.7 233.2L63.7 233.2L64.7 215.7L66.3 215.7L66.7 225.6L67.6 233.2L67.6 233.2ZM71.3 233.2L71.3 233.2L72.6 224.3L72.9 208.5L74.2 212.4L75.3 224.3L76.3 226.9L76.8 207.8L78.2 211.1L78.9 224.3L80.5 228.2L81.2 233.2L81.2 233.2ZM91.7 233.2L91.7 233.2L92.4 221.0L93.7 224.3L94.3 233.2L94.3 233.2ZM97.0 233.2L97.0 233.2L97.9 228.9L99.6 233.2L99.6 233.2ZM100.0 233.2L100.0 233.2L101.3 231.5L102.0 233.2L102.0 233.2ZM105.3 233.2L105.3 233.2L106.6 212.4L107.6 207.1L108.6 212.4L109.5 224.3L110.8 233.2L110.8 233.2ZM125.0 233.2L125.0 233.2L125.7 225.6L127.0 221.6L128.3 224.3L129.6 221.6L130.5 212.4L131.6 220.3L132.9 226.9L133.6 233.2L133.6 233.2ZM141.4 233.2L141.4 233.2L142.8 195.3L144.7 184.1L147.1 182.8L148.0 186.1L149.3 194.0L150.7 201.9L151.6 221.6L152.6 233.2L152.6 233.2ZM153.9 233.2L153.9 233.2L155.3 221.6L155.9 212.4L156.8 207.8L158.2 212.4L158.9 224.3L159.9 233.2L159.9 233.2ZM166.4 233.2L166.4 233.2L167.4 231.5L167.8 233.2L167.8 233.2ZM178.6 233.2L178.6 233.2L179.9 214.4L181.2 219.0L182.1 224.3L183.2 230.8L184.2 228.2L184.7 233.2L184.7 233.2ZM188.4 233.2L188.4 233.2L190.0 212.4L191.7 192.0L193.0 192.7L193.9 199.3L195.7 192.7L197.0 196.6L198.3 203.2L199.2 208.5L200.3 186.1L201.6 183.5L202.6 176.9L203.9 182.1L204.9 195.3L206.8 200.6L208.4 205.8L209.5 216.4L210.8 226.9L212.1 233.2L212.1 233.2ZM212.8 233.2L212.8 232.1L213.7 208.5L214.5 191.4L215.4 188.1L216.3 194.0L217.1 211.1L218.0 226.9L218.4 233.2L218.4 233.2ZM218.9 233.2L218.9 233.2L220.3 221.6L221.6 201.9L222.9 194.0L224.6 192.0L226.3 190.7L226.8 203.2L227.9 221.6L228.9 233.2L228.9 233.2ZM231.2 233.2L231.2 233.2L232.1 219.0L233.2 203.2L234.7 199.3L235.8 203.2L237.1 200.6L238.7 193.3L240.4 197.3L241.1 211.1L242.1 226.9L242.6 233.2L242.6 233.2ZM244.3 233.2L244.3 233.2L245.7 231.5L247.0 233.2L247.0 233.2ZM258.9 233.2L258.9 233.2L259.5 218.3L260.8 225.6L261.8 230.8L262.5 225.6L263.4 225.6L263.8 233.2L263.8 233.2ZM265.1 233.2L265.1 233.2L266.4 212.4L267.8 199.3L268.4 192.0L269.7 195.3L271.7 197.9L272.6 211.1L273.7 225.6L274.7 233.2L274.7 233.2ZM296.3 233.2L296.3 233.2L296.7 225.6L298.7 225.6L298.9 233.2L298.9 233.2ZM301.6 233.2L301.6 233.2L302.9 224.3L303.7 223.6L304.6 229.5L305.3 233.2L305.3 233.2ZM307.6 233.2L307.6 233.2L308.9 215.0L310.3 199.3L311.6 189.4L312.9 188.7L314.2 196.6L315.1 208.5L316.4 221.6L317.4 225.6L318.4 219.0L319.1 213.1L320.4 215.0L321.1 226.9L321.7 233.2L321.7 233.2ZM335.0 233.2L335.0 233.2L335.5 219.0L336.8 201.9L337.6 183.5L339.2 176.9L341.2 176.9L342.1 182.1L343.2 188.7L344.2 194.0L345.5 194.0L346.1 184.8L347.4 179.5L348.7 183.5L350.4 184.8L351.7 192.7L353.0 203.2L353.9 213.7L354.7 233.2L354.7 233.2ZM362.9 233.2L362.9 233.2L364.2 231.1L364.9 233.2L364.9 233.2ZM369.2 233.2L369.2 233.2L370.1 226.9L371.4 233.2L371.4 233.2ZM390.5 233.2L390.5 233.2L391.8 226.9L393.2 225.6L393.8 213.7L395.1 206.5L395.8 219.0L397.4 218.3L398.2 224.3L399.1 221.6L399.7 230.8L401.1 233.2L401.1 233.2ZM401.6 233.2L401.6 233.2L402.9 224.3L404.2 214.4L405.5 221.6L406.6 228.2L407.6 219.0L408.9 211.8L409.9 216.4L410.8 226.9L411.6 233.2L411.6 233.2ZM416.4 233.2L416.4 233.2L417.4 215.0L418.7 206.5L420.4 205.8L422.1 208.5L423.9 207.1L425.3 195.3L426.3 190.7L427.4 199.3L427.9 221.6L428.7 233.2L428.7 233.2ZM430.5 233.2L430.5 233.2L431.6 219.0L432.6 196.6L433.9 195.3L435.3 192.0L436.6 190.0L437.9 192.0L438.2 208.5L438.8 233.2L438.8 233.2ZM459.2 233.2L459.2 233.2L460.8 225.6L461.8 217.7L462.9 211.1L463.8 224.3L465.1 225.6L466.1 213.7L467.1 196.6L468.4 192.7L469.1 188.7L469.7 196.6L470.8 207.1L471.7 219.0L472.6 233.2L472.6 233.2ZM475.3 233.2L475.3 233.2L476.1 228.2L477.6 221.6L478.9 226.9L479.6 233.2L479.6 233.2Z"/><rect x="199.2" y="233.2" width="12.9" height="1.8"/><rect x="218.9" y="233.2" width="10.0" height="1.8"/><rect x="231.2" y="233.2" width="11.4" height="1.8"/><rect x="416.4" y="233.2" width="12.2" height="1.8"/><rect x="430.5" y="233.2" width="8.3" height="1.8"/><rect x="464.2" y="233.2" width="8.4" height="1.8"/></g>
<path d="M63.7 233.2L64.7 215.7L66.3 215.7L66.7 225.6L67.6 233.2M71.3 233.2L72.6 224.3L72.9 208.5L74.2 212.4L75.3 224.3L76.3 226.9L76.8 207.8L78.2 211.1L78.9 224.3L80.5 228.2L81.2 233.2M91.7 233.2L92.4 221.0L93.7 224.3L94.3 233.2M97.0 233.2L97.9 228.9L99.6 233.2M100.0 233.2L101.3 231.5L102.0 233.2M105.3 233.2L106.6 212.4L107.6 207.1L108.6 212.4L109.5 224.3L110.8 233.2M125.0 233.2L125.7 225.6L127.0 221.6L128.3 224.3L129.6 221.6L130.5 212.4L131.6 220.3L132.9 226.9L133.6 233.2M141.4 233.2L142.8 195.3L144.7 184.1L147.1 182.8L148.0 186.1L149.3 194.0L150.7 201.9L151.6 221.6L152.6 233.2M153.9 233.2L155.3 221.6L155.9 212.4L156.8 207.8L158.2 212.4L158.9 224.3L159.9 233.2M166.4 233.2L167.4 231.5L167.8 233.2M178.6 233.2L179.9 214.4L181.2 219.0L182.1 224.3L183.2 230.8L184.2 228.2L184.7 233.2M188.4 233.2L190.0 212.4L191.7 192.0L193.0 192.7L193.9 199.3L195.7 192.7L197.0 196.6L198.3 203.2L199.2 208.5L200.3 186.1L201.6 183.5L202.6 176.9L203.9 182.1L204.9 195.3L206.8 200.6L208.4 205.8L209.5 216.4L210.8 226.9L212.1 233.2M212.8 232.1L213.7 208.5L214.5 191.4L215.4 188.1L216.3 194.0L217.1 211.1L218.0 226.9L218.4 233.2M218.9 233.2L220.3 221.6L221.6 201.9L222.9 194.0L224.6 192.0L226.3 190.7L226.8 203.2L227.9 221.6L228.9 233.2M231.2 233.2L232.1 219.0L233.2 203.2L234.7 199.3L235.8 203.2L237.1 200.6L238.7 193.3L240.4 197.3L241.1 211.1L242.1 226.9L242.6 233.2M244.3 233.2L245.7 231.5L247.0 233.2M258.9 233.2L259.5 218.3L260.8 225.6L261.8 230.8L262.5 225.6L263.4 225.6L263.8 233.2M265.1 233.2L266.4 212.4L267.8 199.3L268.4 192.0L269.7 195.3L271.7 197.9L272.6 211.1L273.7 225.6L274.7 233.2M296.3 233.2L296.7 225.6L298.7 225.6L298.9 233.2M301.6 233.2L302.9 224.3L303.7 223.6L304.6 229.5L305.3 233.2M307.6 233.2L308.9 215.0L310.3 199.3L311.6 189.4L312.9 188.7L314.2 196.6L315.1 208.5L316.4 221.6L317.4 225.6L318.4 219.0L319.1 213.1L320.4 215.0L321.1 226.9L321.7 233.2M335.0 233.2L335.5 219.0L336.8 201.9L337.6 183.5L339.2 176.9L341.2 176.9L342.1 182.1L343.2 188.7L344.2 194.0L345.5 194.0L346.1 184.8L347.4 179.5L348.7 183.5L350.4 184.8L351.7 192.7L353.0 203.2L353.9 213.7L354.7 233.2M362.9 233.2L364.2 231.1L364.9 233.2M369.2 233.2L370.1 226.9L371.4 233.2M390.5 233.2L391.8 226.9L393.2 225.6L393.8 213.7L395.1 206.5L395.8 219.0L397.4 218.3L398.2 224.3L399.1 221.6L399.7 230.8L401.1 233.2M401.6 233.2L402.9 224.3L404.2 214.4L405.5 221.6L406.6 228.2L407.6 219.0L408.9 211.8L409.9 216.4L410.8 226.9L411.6 233.2M416.4 233.2L417.4 215.0L418.7 206.5L420.4 205.8L422.1 208.5L423.9 207.1L425.3 195.3L426.3 190.7L427.4 199.3L427.9 221.6L428.7 233.2M430.5 233.2L431.6 219.0L432.6 196.6L433.9 195.3L435.3 192.0L436.6 190.0L437.9 192.0L438.2 208.5L438.8 233.2M459.2 233.2L460.8 225.6L461.8 217.7L462.9 211.1L463.8 224.3L465.1 225.6L466.1 213.7L467.1 196.6L468.4 192.7L469.1 188.7L469.7 196.6L470.8 207.1L471.7 219.0L472.6 233.2M475.3 233.2L476.1 228.2L477.6 221.6L478.9 226.9L479.6 233.2" fill="none" stroke="#000" stroke-width="1.3" stroke-linejoin="miter" stroke-miterlimit="5"/>
<line x1="20.6" x2="655.3" y1="274.1" y2="274.1" stroke="#b4b4ff" stroke-width="1.1"/>
<g clip-path="url(#c4k)" fill="#ff9999"><path d="M28.2 303.3L28.2 303.3L29.5 280.9L30.5 269.1L31.6 265.8L32.5 268.4L33.2 279.6L34.2 290.1L35.1 295.4L36.4 286.2L37.4 278.3L39.1 274.4L40.4 266.5L41.3 257.2L43.0 252.6L44.3 258.6L45.7 257.2L47.0 249.4L47.9 247.4L49.6 250.7L50.9 258.6L51.6 278.3L52.2 283.6L52.9 266.5L53.9 250.7L55.3 246.1L56.8 250.0L58.8 250.0L60.1 254.6L61.1 262.5L62.1 273.0L63.7 268.4L64.5 279.6L65.4 296.7L66.1 303.3L66.1 303.3ZM72.9 303.3L72.9 303.3L73.9 290.1L75.0 267.8L76.3 271.7L77.6 274.4L78.9 280.9L79.9 283.6L80.3 298.0L80.8 303.3L80.8 303.3ZM103.9 303.3L103.9 303.3L105.5 279.6L106.8 263.8L107.6 257.2L108.9 259.9L109.5 273.0L110.3 290.1L111.6 303.3L111.6 303.3ZM126.1 303.3L126.1 303.3L127.4 290.8L128.7 298.0L129.6 292.8L130.5 283.6L131.6 284.9L132.6 298.0L133.6 303.3L133.6 303.3ZM141.4 303.3L141.4 303.3L142.8 286.2L144.1 259.9L144.7 250.0L146.3 249.6L147.1 255.9L148.0 263.8L149.3 270.4L150.0 279.6L151.1 286.2L152.0 296.7L152.6 295.4L153.7 303.3L153.7 303.3ZM154.6 303.3L154.6 303.3L155.9 292.8L156.8 280.9L158.2 282.2L158.9 296.7L159.9 296.7L160.3 303.3L160.3 303.3ZM177.6 303.3L177.6 303.3L178.6 292.8L179.5 290.1L180.5 284.9L181.6 284.2L182.5 292.8L183.4 303.3L183.4 303.3ZM187.1 303.3L187.1 303.3L187.8 296.7L188.7 300.7L189.7 298.0L191.1 279.6L192.6 265.1L193.9 257.9L195.3 258.6L196.6 262.5L197.4 277.0L198.3 284.9L199.2 283.6L200.5 266.5L202.2 256.6L203.6 262.5L204.9 265.1L206.2 271.7L208.2 277.0L209.5 279.6L210.1 292.8L211.1 303.3L211.1 303.3ZM213.7 303.3L213.7 303.3L214.7 298.0L215.4 303.3L215.4 303.3ZM220.0 303.3L220.0 303.3L221.3 279.6L222.6 263.8L224.6 261.9L226.3 261.2L226.8 274.4L227.6 292.8L227.9 303.3L227.9 303.3ZM231.2 303.3L231.2 303.3L232.1 279.6L233.4 261.2L234.7 257.2L235.8 263.8L237.1 269.1L238.4 275.7L239.1 270.4L240.8 271.1L241.3 283.6L242.1 303.3L242.1 303.3ZM259.5 303.3L259.5 303.3L259.9 296.7L261.2 295.4L262.1 293.4L262.5 303.3L262.5 303.3ZM264.7 303.3L264.7 303.3L265.8 288.8L266.8 283.6L268.2 274.4L269.5 280.9L270.8 277.6L272.1 276.3L272.6 286.2L273.4 296.7L274.3 303.3L274.3 303.3ZM277.0 303.3L277.0 303.3L278.3 297.4L279.6 298.7L280.9 303.3L280.9 303.3ZM301.6 303.3L301.6 303.3L302.6 298.0L303.7 294.7L304.2 303.3L304.2 303.3ZM306.8 303.3L306.8 303.3L307.9 290.1L308.9 277.0L309.9 259.9L311.2 255.3L312.5 255.9L313.2 266.5L314.2 279.6L314.7 290.1L315.5 286.2L316.4 286.2L317.1 294.1L318.4 289.5L319.5 289.5L320.4 294.1L320.8 303.3L320.8 303.3ZM335.0 303.3L335.0 303.3L335.9 286.2L336.8 270.4L337.9 255.9L338.9 250.0L340.3 252.0L340.8 266.5L341.8 278.3L342.9 283.6L344.2 278.3L345.5 267.8L346.8 270.4L348.2 274.4L349.5 279.6L350.4 292.8L351.1 300.7L352.1 296.7L352.6 290.1L353.7 295.4L354.7 292.8L355.3 303.3L355.3 303.3ZM392.5 303.3L392.5 303.3L393.4 290.1L394.2 278.3L394.7 272.4L395.8 275.7L397.1 280.9L398.2 290.1L399.1 298.0L400.0 303.3L400.0 303.3ZM402.4 303.3L402.4 303.3L403.3 292.8L403.9 281.6L405.3 288.8L405.9 303.3L405.9 303.3ZM406.3 303.3L406.3 303.3L407.6 296.7L408.6 291.5L410.3 291.5L411.2 296.7L412.1 303.3L412.1 303.3ZM414.7 303.3L414.7 303.3L415.8 296.7L416.8 290.1L417.8 279.6L419.1 277.6L419.7 286.2L420.4 298.0L421.1 292.8L422.1 279.6L423.4 275.7L424.3 267.8L426.1 263.8L427.0 270.4L427.9 283.6L428.9 296.7L429.6 303.3L429.6 303.3ZM431.3 303.3L431.3 303.3L432.2 290.1L433.2 273.0L434.2 263.8L435.5 259.9L436.8 250.7L438.2 251.3L438.8 259.9L439.5 273.0L440.1 292.8L441.1 303.3L441.1 303.3ZM444.1 303.3L444.1 303.3L445.0 302.2L445.8 303.3L445.8 303.3ZM460.3 303.3L460.3 303.3L461.2 292.8L462.1 282.2L463.4 278.3L464.7 277.0L465.8 271.7L467.1 263.8L468.4 259.2L469.7 259.9L470.8 266.5L471.3 277.0L472.1 292.8L473.0 303.3L473.0 303.3ZM475.0 303.3L475.0 303.3L476.1 290.3L477.8 283.3L479.7 286.1L481.7 295.8L482.5 303.3L482.5 303.3ZM495.8 303.3L495.8 303.3L496.6 298.0L497.7 303.3L497.7 303.3ZM500.0 303.3L500.0 303.3L500.8 295.8L501.9 303.3L503.3 298.6L505.2 296.6L505.5 303.3L505.5 303.3ZM510.5 303.3L510.5 303.3L511.6 300.0L513.0 303.3L513.0 303.3ZM515.8 303.3L515.8 303.3L517.4 298.0L518.5 303.3L518.5 303.3ZM556.0 303.3L556.0 303.3L557.1 301.6L558.2 303.3L559.3 301.6L560.4 303.3L560.4 303.3ZM626.7 303.3L626.7 303.3L627.6 297.2L628.7 303.3L628.7 303.3Z"/><rect x="28.2" y="303.3" width="5.9" height="1.8"/><rect x="35.8" y="303.3" width="30.3" height="1.8"/><rect x="72.9" y="303.3" width="7.9" height="1.8"/><rect x="103.9" y="303.3" width="7.6" height="1.8"/><rect x="141.4" y="303.3" width="10.1" height="1.8"/><rect x="189.1" y="303.3" width="10.1" height="1.8"/><rect x="265.1" y="303.3" width="9.2" height="1.8"/><rect x="306.8" y="303.3" width="7.6" height="1.8"/><rect x="335.0" y="303.3" width="15.8" height="1.8"/><rect x="392.5" y="303.3" width="7.5" height="1.8"/></g>
<g clip-path="url(#c4b)" fill="#9999ee"><path d="M28.2 303.3L28.2 303.3L29.5 280.9L30.5 269.1L31.6 265.8L32.5 268.4L33.2 279.6L34.2 290.1L35.1 295.4L36.4 286.2L37.4 278.3L39.1 274.4L40.4 266.5L41.3 257.2L43.0 252.6L44.3 258.6L45.7 257.2L47.0 249.4L47.9 247.4L49.6 250.7L50.9 258.6L51.6 278.3L52.2 283.6L52.9 266.5L53.9 250.7L55.3 246.1L56.8 250.0L58.8 250.0L60.1 254.6L61.1 262.5L62.1 273.0L63.7 268.4L64.5 279.6L65.4 296.7L66.1 303.3L66.1 303.3ZM72.9 303.3L72.9 303.3L73.9 290.1L75.0 267.8L76.3 271.7L77.6 274.4L78.9 280.9L79.9 283.6L80.3 298.0L80.8 303.3L80.8 303.3ZM103.9 303.3L103.9 303.3L105.5 279.6L106.8 263.8L107.6 257.2L108.9 259.9L109.5 273.0L110.3 290.1L111.6 303.3L111.6 303.3ZM126.1 303.3L126.1 303.3L127.4 290.8L128.7 298.0L129.6 292.8L130.5 283.6L131.6 284.9L132.6 298.0L133.6 303.3L133.6 303.3ZM141.4 303.3L141.4 303.3L142.8 286.2L144.1 259.9L144.7 250.0L146.3 249.6L147.1 255.9L148.0 263.8L149.3 270.4L150.0 279.6L151.1 286.2L152.0 296.7L152.6 295.4L153.7 303.3L153.7 303.3ZM154.6 303.3L154.6 303.3L155.9 292.8L156.8 280.9L158.2 282.2L158.9 296.7L159.9 296.7L160.3 303.3L160.3 303.3ZM177.6 303.3L177.6 303.3L178.6 292.8L179.5 290.1L180.5 284.9L181.6 284.2L182.5 292.8L183.4 303.3L183.4 303.3ZM187.1 303.3L187.1 303.3L187.8 296.7L188.7 300.7L189.7 298.0L191.1 279.6L192.6 265.1L193.9 257.9L195.3 258.6L196.6 262.5L197.4 277.0L198.3 284.9L199.2 283.6L200.5 266.5L202.2 256.6L203.6 262.5L204.9 265.1L206.2 271.7L208.2 277.0L209.5 279.6L210.1 292.8L211.1 303.3L211.1 303.3ZM213.7 303.3L213.7 303.3L214.7 298.0L215.4 303.3L215.4 303.3ZM220.0 303.3L220.0 303.3L221.3 279.6L222.6 263.8L224.6 261.9L226.3 261.2L226.8 274.4L227.6 292.8L227.9 303.3L227.9 303.3ZM231.2 303.3L231.2 303.3L232.1 279.6L233.4 261.2L234.7 257.2L235.8 263.8L237.1 269.1L238.4 275.7L239.1 270.4L240.8 271.1L241.3 283.6L242.1 303.3L242.1 303.3ZM259.5 303.3L259.5 303.3L259.9 296.7L261.2 295.4L262.1 293.4L262.5 303.3L262.5 303.3ZM264.7 303.3L264.7 303.3L265.8 288.8L266.8 283.6L268.2 274.4L269.5 280.9L270.8 277.6L272.1 276.3L272.6 286.2L273.4 296.7L274.3 303.3L274.3 303.3ZM277.0 303.3L277.0 303.3L278.3 297.4L279.6 298.7L280.9 303.3L280.9 303.3ZM301.6 303.3L301.6 303.3L302.6 298.0L303.7 294.7L304.2 303.3L304.2 303.3ZM306.8 303.3L306.8 303.3L307.9 290.1L308.9 277.0L309.9 259.9L311.2 255.3L312.5 255.9L313.2 266.5L314.2 279.6L314.7 290.1L315.5 286.2L316.4 286.2L317.1 294.1L318.4 289.5L319.5 289.5L320.4 294.1L320.8 303.3L320.8 303.3ZM335.0 303.3L335.0 303.3L335.9 286.2L336.8 270.4L337.9 255.9L338.9 250.0L340.3 252.0L340.8 266.5L341.8 278.3L342.9 283.6L344.2 278.3L345.5 267.8L346.8 270.4L348.2 274.4L349.5 279.6L350.4 292.8L351.1 300.7L352.1 296.7L352.6 290.1L353.7 295.4L354.7 292.8L355.3 303.3L355.3 303.3ZM392.5 303.3L392.5 303.3L393.4 290.1L394.2 278.3L394.7 272.4L395.8 275.7L397.1 280.9L398.2 290.1L399.1 298.0L400.0 303.3L400.0 303.3ZM402.4 303.3L402.4 303.3L403.3 292.8L403.9 281.6L405.3 288.8L405.9 303.3L405.9 303.3ZM406.3 303.3L406.3 303.3L407.6 296.7L408.6 291.5L410.3 291.5L411.2 296.7L412.1 303.3L412.1 303.3ZM414.7 303.3L414.7 303.3L415.8 296.7L416.8 290.1L417.8 279.6L419.1 277.6L419.7 286.2L420.4 298.0L421.1 292.8L422.1 279.6L423.4 275.7L424.3 267.8L426.1 263.8L427.0 270.4L427.9 283.6L428.9 296.7L429.6 303.3L429.6 303.3ZM431.3 303.3L431.3 303.3L432.2 290.1L433.2 273.0L434.2 263.8L435.5 259.9L436.8 250.7L438.2 251.3L438.8 259.9L439.5 273.0L440.1 292.8L441.1 303.3L441.1 303.3ZM444.1 303.3L444.1 303.3L445.0 302.2L445.8 303.3L445.8 303.3ZM460.3 303.3L460.3 303.3L461.2 292.8L462.1 282.2L463.4 278.3L464.7 277.0L465.8 271.7L467.1 263.8L468.4 259.2L469.7 259.9L470.8 266.5L471.3 277.0L472.1 292.8L473.0 303.3L473.0 303.3ZM475.0 303.3L475.0 303.3L476.1 290.3L477.8 283.3L479.7 286.1L481.7 295.8L482.5 303.3L482.5 303.3ZM495.8 303.3L495.8 303.3L496.6 298.0L497.7 303.3L497.7 303.3ZM500.0 303.3L500.0 303.3L500.8 295.8L501.9 303.3L503.3 298.6L505.2 296.6L505.5 303.3L505.5 303.3ZM510.5 303.3L510.5 303.3L511.6 300.0L513.0 303.3L513.0 303.3ZM515.8 303.3L515.8 303.3L517.4 298.0L518.5 303.3L518.5 303.3ZM556.0 303.3L556.0 303.3L557.1 301.6L558.2 303.3L559.3 301.6L560.4 303.3L560.4 303.3ZM626.7 303.3L626.7 303.3L627.6 297.2L628.7 303.3L628.7 303.3Z"/><rect x="199.2" y="303.3" width="11.8" height="1.8"/><rect x="220.0" y="303.3" width="7.9" height="1.8"/><rect x="231.2" y="303.3" width="10.9" height="1.8"/><rect x="415.8" y="303.3" width="13.8" height="1.8"/><rect x="431.3" y="303.3" width="9.7" height="1.8"/><rect x="460.3" y="303.3" width="12.8" height="1.8"/></g>
<path d="M28.2 303.3L29.5 280.9L30.5 269.1L31.6 265.8L32.5 268.4L33.2 279.6L34.2 290.1L35.1 295.4L36.4 286.2L37.4 278.3L39.1 274.4L40.4 266.5L41.3 257.2L43.0 252.6L44.3 258.6L45.7 257.2L47.0 249.4L47.9 247.4L49.6 250.7L50.9 258.6L51.6 278.3L52.2 283.6L52.9 266.5L53.9 250.7L55.3 246.1L56.8 250.0L58.8 250.0L60.1 254.6L61.1 262.5L62.1 273.0L63.7 268.4L64.5 279.6L65.4 296.7L66.1 303.3M72.9 303.3L73.9 290.1L75.0 267.8L76.3 271.7L77.6 274.4L78.9 280.9L79.9 283.6L80.3 298.0L80.8 303.3M103.9 303.3L105.5 279.6L106.8 263.8L107.6 257.2L108.9 259.9L109.5 273.0L110.3 290.1L111.6 303.3M126.1 303.3L127.4 290.8L128.7 298.0L129.6 292.8L130.5 283.6L131.6 284.9L132.6 298.0L133.6 303.3M141.4 303.3L142.8 286.2L144.1 259.9L144.7 250.0L146.3 249.6L147.1 255.9L148.0 263.8L149.3 270.4L150.0 279.6L151.1 286.2L152.0 296.7L152.6 295.4L153.7 303.3M154.6 303.3L155.9 292.8L156.8 280.9L158.2 282.2L158.9 296.7L159.9 296.7L160.3 303.3M177.6 303.3L178.6 292.8L179.5 290.1L180.5 284.9L181.6 284.2L182.5 292.8L183.4 303.3M187.1 303.3L187.8 296.7L188.7 300.7L189.7 298.0L191.1 279.6L192.6 265.1L193.9 257.9L195.3 258.6L196.6 262.5L197.4 277.0L198.3 284.9L199.2 283.6L200.5 266.5L202.2 256.6L203.6 262.5L204.9 265.1L206.2 271.7L208.2 277.0L209.5 279.6L210.1 292.8L211.1 303.3M213.7 303.3L214.7 298.0L215.4 303.3M220.0 303.3L221.3 279.6L222.6 263.8L224.6 261.9L226.3 261.2L226.8 274.4L227.6 292.8L227.9 303.3M231.2 303.3L232.1 279.6L233.4 261.2L234.7 257.2L235.8 263.8L237.1 269.1L238.4 275.7L239.1 270.4L240.8 271.1L241.3 283.6L242.1 303.3M259.5 303.3L259.9 296.7L261.2 295.4L262.1 293.4L262.5 303.3M264.7 303.3L265.8 288.8L266.8 283.6L268.2 274.4L269.5 280.9L270.8 277.6L272.1 276.3L272.6 286.2L273.4 296.7L274.3 303.3M277.0 303.3L278.3 297.4L279.6 298.7L280.9 303.3M301.6 303.3L302.6 298.0L303.7 294.7L304.2 303.3M306.8 303.3L307.9 290.1L308.9 277.0L309.9 259.9L311.2 255.3L312.5 255.9L313.2 266.5L314.2 279.6L314.7 290.1L315.5 286.2L316.4 286.2L317.1 294.1L318.4 289.5L319.5 289.5L320.4 294.1L320.8 303.3M335.0 303.3L335.9 286.2L336.8 270.4L337.9 255.9L338.9 250.0L340.3 252.0L340.8 266.5L341.8 278.3L342.9 283.6L344.2 278.3L345.5 267.8L346.8 270.4L348.2 274.4L349.5 279.6L350.4 292.8L351.1 300.7L352.1 296.7L352.6 290.1L353.7 295.4L354.7 292.8L355.3 303.3M392.5 303.3L393.4 290.1L394.2 278.3L394.7 272.4L395.8 275.7L397.1 280.9L398.2 290.1L399.1 298.0L400.0 303.3M402.4 303.3L403.3 292.8L403.9 281.6L405.3 288.8L405.9 303.3M406.3 303.3L407.6 296.7L408.6 291.5L410.3 291.5L411.2 296.7L412.1 303.3M414.7 303.3L415.8 296.7L416.8 290.1L417.8 279.6L419.1 277.6L419.7 286.2L420.4 298.0L421.1 292.8L422.1 279.6L423.4 275.7L424.3 267.8L426.1 263.8L427.0 270.4L427.9 283.6L428.9 296.7L429.6 303.3M431.3 303.3L432.2 290.1L433.2 273.0L434.2 263.8L435.5 259.9L436.8 250.7L438.2 251.3L438.8 259.9L439.5 273.0L440.1 292.8L441.1 303.3M444.1 303.3L445.0 302.2L445.8 303.3M460.3 303.3L461.2 292.8L462.1 282.2L463.4 278.3L464.7 277.0L465.8 271.7L467.1 263.8L468.4 259.2L469.7 259.9L470.8 266.5L471.3 277.0L472.1 292.8L473.0 303.3M475.0 303.3L476.1 290.3L477.8 283.3L479.7 286.1L481.7 295.8L482.5 303.3M495.8 303.3L496.6 298.0L497.7 303.3M500.0 303.3L500.8 295.8L501.9 303.3L503.3 298.6L505.2 296.6L505.5 303.3M510.5 303.3L511.6 300.0L513.0 303.3M515.8 303.3L517.4 298.0L518.5 303.3M556.0 303.3L557.1 301.6L558.2 303.3L559.3 301.6L560.4 303.3M626.7 303.3L627.6 297.2L628.7 303.3" fill="none" stroke="#000" stroke-width="1.3" stroke-linejoin="miter" stroke-miterlimit="5"/>
<line x1="20.6" x2="655.3" y1="342.8" y2="342.8" stroke="#b4b4ff" stroke-width="1.1"/>
<g clip-path="url(#c5k)" fill="#ff9999"><path d="M81.8 372.0L81.8 372.0L84.2 362.8L84.5 372.0L84.5 372.0ZM103.9 372.0L103.9 372.0L105.0 361.5L106.3 335.2L107.6 322.0L108.9 321.3L109.9 327.3L111.2 332.5L112.1 345.7L113.2 352.3L114.2 365.4L114.7 372.0L114.7 372.0ZM123.4 372.0L123.4 372.0L124.3 361.5L125.3 339.1L126.6 337.8L127.4 348.3L128.3 354.9L129.2 333.8L130.5 327.3L131.8 327.3L132.9 332.5L133.6 348.3L134.5 358.8L135.3 365.4L136.2 347.0L136.8 348.3L137.5 361.5L138.2 372.0L138.2 372.0ZM140.8 372.0L140.8 372.0L142.1 352.3L143.2 332.5L144.5 314.8L146.1 314.1L147.4 319.4L148.9 322.0L150.7 323.3L152.0 329.9L152.9 327.3L153.7 343.1L155.3 343.1L156.8 337.8L158.2 340.4L158.9 352.3L159.9 358.2L161.6 358.2L162.5 347.0L163.2 344.4L164.5 339.1L165.1 345.7L166.4 352.3L167.4 365.4L167.8 372.0L167.8 372.0ZM176.3 372.0L176.3 372.0L177.2 354.9L178.6 333.8L180.3 331.9L181.2 337.8L182.1 347.0L183.2 352.3L184.2 365.4L185.1 372.0L185.1 372.0ZM185.5 372.0L185.5 372.0L186.4 352.3L187.8 339.1L189.1 334.5L190.0 329.9L191.1 331.2L192.4 325.9L194.3 317.4L195.3 322.0L197.0 327.3L198.7 328.6L200.0 322.0L201.6 319.4L203.2 314.1L204.5 319.4L205.8 322.0L207.5 327.3L208.8 328.6L209.7 335.2L210.5 348.3L211.8 361.5L212.4 372.0L212.4 372.0ZM212.8 372.0L212.8 372.0L213.4 348.3L214.1 328.6L215.4 320.7L216.3 322.0L217.1 332.5L218.0 344.4L218.9 353.6L220.0 350.9L220.7 339.1L221.6 325.9L222.6 324.0L223.9 325.9L225.9 327.9L226.6 339.1L227.6 354.9L228.6 372.0L228.6 372.0ZM231.6 372.0L231.6 372.0L232.5 361.5L233.4 341.7L234.2 333.2L235.8 335.2L237.4 331.2L238.4 324.6L239.5 320.7L240.4 322.0L241.1 335.2L242.1 348.3L243.0 358.8L243.9 353.6L244.7 350.3L245.7 361.5L247.0 364.1L248.3 370.7L248.9 372.0L248.9 372.0ZM251.3 372.0L251.3 372.0L252.4 365.4L253.3 368.1L254.6 362.8L255.3 370.7L255.9 366.7L256.8 354.9L257.6 341.7L258.9 336.5L259.9 344.4L261.2 347.0L262.1 333.8L263.2 339.1L264.5 329.9L265.5 335.2L266.4 325.9L267.8 330.6L269.1 324.0L270.0 328.6L271.7 327.3L273.0 332.5L273.7 344.4L274.7 353.6L275.7 361.5L276.6 357.5L277.6 350.9L278.7 349.6L279.6 357.5L280.3 366.7L281.6 372.0L281.6 372.0ZM306.8 372.0L306.8 372.0L307.9 352.3L308.9 328.6L309.9 314.8L311.6 313.4L312.9 319.4L314.2 328.6L315.1 339.1L315.8 352.3L316.4 358.8L317.1 348.3L317.8 328.6L319.1 325.9L320.0 320.7L320.8 331.2L321.3 347.0L322.1 358.8L322.6 372.0L322.6 372.0ZM328.4 372.0L328.4 372.0L329.3 369.4L330.0 366.7L331.1 372.0L331.1 372.0ZM331.1 372.0L331.1 372.0L332.0 361.5L332.9 350.9L334.6 348.3L335.5 343.1L336.6 325.9L338.2 315.4L340.3 314.8L342.1 318.1L343.8 318.7L345.5 319.4L346.8 314.8L348.7 314.1L350.4 315.4L351.7 322.0L352.6 332.5L353.7 345.7L354.3 361.5L355.0 372.0L355.0 372.0ZM361.3 372.0L361.3 372.0L361.8 361.5L362.9 348.3L363.9 337.1L364.9 343.1L365.8 358.8L366.8 369.4L367.5 372.0L367.5 372.0ZM369.2 372.0L369.2 372.0L370.1 366.7L371.1 370.7L371.4 372.0L371.4 372.0ZM371.8 372.0L371.8 372.0L372.8 352.3L373.7 337.1L375.4 335.8L377.1 334.5L378.0 327.3L380.0 328.6L380.7 341.7L381.6 358.8L382.4 372.0L382.4 372.0ZM391.6 372.0L391.6 372.0L392.5 358.8L393.2 341.7L394.2 331.9L395.1 330.6L396.4 336.5L397.8 341.7L398.4 347.0L399.1 343.1L400.0 352.3L401.1 361.5L402.1 372.0L402.1 372.0ZM402.4 372.0L402.4 372.0L403.3 347.0L404.6 340.4L405.9 344.4L407.2 339.1L408.9 332.5L409.9 339.1L410.8 350.9L411.8 361.5L412.9 369.4L413.4 372.0L413.4 372.0ZM413.2 372.0L413.2 372.0L414.2 364.1L415.1 361.5L415.8 366.7L416.8 348.3L417.8 329.9L419.5 318.7L421.1 323.3L422.6 322.7L423.7 329.9L425.0 323.3L427.0 322.7L427.6 335.2L428.7 348.3L429.6 360.2L430.5 348.3L431.6 335.2L432.9 322.0L433.9 316.1L435.8 314.8L437.5 313.4L438.4 316.7L439.2 327.3L440.1 341.7L441.1 358.8L442.1 369.4L443.4 371.3L444.5 372.0L444.5 372.0ZM460.3 372.0L460.3 372.0L461.2 358.8L461.8 340.4L463.4 337.1L464.7 337.8L465.8 332.5L467.1 325.9L468.4 320.7L470.4 320.7L471.1 331.2L471.7 343.1L472.6 358.8L473.4 372.0L473.4 372.0ZM473.9 372.0L473.9 372.0L475.0 352.3L476.3 344.4L477.6 336.5L478.9 328.6L479.5 321.3L480.8 326.6L481.6 332.5L482.5 343.1L483.4 361.5L484.5 372.0L484.5 372.0ZM493.0 372.0L493.0 372.0L493.7 363.4L495.3 365.4L496.3 366.7L497.0 372.0L497.0 372.0ZM500.9 372.0L500.9 372.0L502.2 366.1L503.6 370.0L504.5 372.0L504.5 372.0ZM518.0 372.0L518.0 372.0L518.9 365.4L520.0 372.0L521.1 366.7L522.0 363.4L522.4 372.0L522.4 372.0ZM548.4 372.0L548.4 372.0L549.1 359.7L550.0 349.6L551.0 354.8L551.9 352.7L552.6 361.5L553.7 372.0L553.7 372.0Z"/><rect x="103.9" y="372.0" width="9.5" height="1.8"/><rect x="123.9" y="372.0" width="12.2" height="1.8"/><rect x="140.8" y="372.0" width="27.0" height="1.8"/><rect x="176.3" y="372.0" width="8.2" height="1.8"/><rect x="185.8" y="372.0" width="13.4" height="1.8"/><rect x="212.8" y="372.0" width="7.2" height="1.8"/><rect x="255.9" y="372.0" width="19.1" height="1.8"/><rect x="307.2" y="372.0" width="15.4" height="1.8"/><rect x="331.1" y="372.0" width="23.9" height="1.8"/><rect x="361.3" y="372.0" width="5.9" height="1.8"/><rect x="371.8" y="372.0" width="10.5" height="1.8"/><rect x="391.8" y="372.0" width="10.3" height="1.8"/><rect x="402.4" y="372.0" width="10.8" height="1.8"/><rect x="473.9" y="372.0" width="10.5" height="1.8"/></g>
<g clip-path="url(#c5b)" fill="#9999ee"><path d="M81.8 372.0L81.8 372.0L84.2 362.8L84.5 372.0L84.5 372.0ZM103.9 372.0L103.9 372.0L105.0 361.5L106.3 335.2L107.6 322.0L108.9 321.3L109.9 327.3L111.2 332.5L112.1 345.7L113.2 352.3L114.2 365.4L114.7 372.0L114.7 372.0ZM123.4 372.0L123.4 372.0L124.3 361.5L125.3 339.1L126.6 337.8L127.4 348.3L128.3 354.9L129.2 333.8L130.5 327.3L131.8 327.3L132.9 332.5L133.6 348.3L134.5 358.8L135.3 365.4L136.2 347.0L136.8 348.3L137.5 361.5L138.2 372.0L138.2 372.0ZM140.8 372.0L140.8 372.0L142.1 352.3L143.2 332.5L144.5 314.8L146.1 314.1L147.4 319.4L148.9 322.0L150.7 323.3L152.0 329.9L152.9 327.3L153.7 343.1L155.3 343.1L156.8 337.8L158.2 340.4L158.9 352.3L159.9 358.2L161.6 358.2L162.5 347.0L163.2 344.4L164.5 339.1L165.1 345.7L166.4 352.3L167.4 365.4L167.8 372.0L167.8 372.0ZM176.3 372.0L176.3 372.0L177.2 354.9L178.6 333.8L180.3 331.9L181.2 337.8L182.1 347.0L183.2 352.3L184.2 365.4L185.1 372.0L185.1 372.0ZM185.5 372.0L185.5 372.0L186.4 352.3L187.8 339.1L189.1 334.5L190.0 329.9L191.1 331.2L192.4 325.9L194.3 317.4L195.3 322.0L197.0 327.3L198.7 328.6L200.0 322.0L201.6 319.4L203.2 314.1L204.5 319.4L205.8 322.0L207.5 327.3L208.8 328.6L209.7 335.2L210.5 348.3L211.8 361.5L212.4 372.0L212.4 372.0ZM212.8 372.0L212.8 372.0L213.4 348.3L214.1 328.6L215.4 320.7L216.3 322.0L217.1 332.5L218.0 344.4L218.9 353.6L220.0 350.9L220.7 339.1L221.6 325.9L222.6 324.0L223.9 325.9L225.9 327.9L226.6 339.1L227.6 354.9L228.6 372.0L228.6 372.0ZM231.6 372.0L231.6 372.0L232.5 361.5L233.4 341.7L234.2 333.2L235.8 335.2L237.4 331.2L238.4 324.6L239.5 320.7L240.4 322.0L241.1 335.2L242.1 348.3L243.0 358.8L243.9 353.6L244.7 350.3L245.7 361.5L247.0 364.1L248.3 370.7L248.9 372.0L248.9 372.0ZM251.3 372.0L251.3 372.0L252.4 365.4L253.3 368.1L254.6 362.8L255.3 370.7L255.9 366.7L256.8 354.9L257.6 341.7L258.9 336.5L259.9 344.4L261.2 347.0L262.1 333.8L263.2 339.1L264.5 329.9L265.5 335.2L266.4 325.9L267.8 330.6L269.1 324.0L270.0 328.6L271.7 327.3L273.0 332.5L273.7 344.4L274.7 353.6L275.7 361.5L276.6 357.5L277.6 350.9L278.7 349.6L279.6 357.5L280.3 366.7L281.6 372.0L281.6 372.0ZM306.8 372.0L306.8 372.0L307.9 352.3L308.9 328.6L309.9 314.8L311.6 313.4L312.9 319.4L314.2 328.6L315.1 339.1L315.8 352.3L316.4 358.8L317.1 348.3L317.8 328.6L319.1 325.9L320.0 320.7L320.8 331.2L321.3 347.0L322.1 358.8L322.6 372.0L322.6 372.0ZM328.4 372.0L328.4 372.0L329.3 369.4L330.0 366.7L331.1 372.0L331.1 372.0ZM331.1 372.0L331.1 372.0L332.0 361.5L332.9 350.9L334.6 348.3L335.5 343.1L336.6 325.9L338.2 315.4L340.3 314.8L342.1 318.1L343.8 318.7L345.5 319.4L346.8 314.8L348.7 314.1L350.4 315.4L351.7 322.0L352.6 332.5L353.7 345.7L354.3 361.5L355.0 372.0L355.0 372.0ZM361.3 372.0L361.3 372.0L361.8 361.5L362.9 348.3L363.9 337.1L364.9 343.1L365.8 358.8L366.8 369.4L367.5 372.0L367.5 372.0ZM369.2 372.0L369.2 372.0L370.1 366.7L371.1 370.7L371.4 372.0L371.4 372.0ZM371.8 372.0L371.8 372.0L372.8 352.3L373.7 337.1L375.4 335.8L377.1 334.5L378.0 327.3L380.0 328.6L380.7 341.7L381.6 358.8L382.4 372.0L382.4 372.0ZM391.6 372.0L391.6 372.0L392.5 358.8L393.2 341.7L394.2 331.9L395.1 330.6L396.4 336.5L397.8 341.7L398.4 347.0L399.1 343.1L400.0 352.3L401.1 361.5L402.1 372.0L402.1 372.0ZM402.4 372.0L402.4 372.0L403.3 347.0L404.6 340.4L405.9 344.4L407.2 339.1L408.9 332.5L409.9 339.1L410.8 350.9L411.8 361.5L412.9 369.4L413.4 372.0L413.4 372.0ZM413.2 372.0L413.2 372.0L414.2 364.1L415.1 361.5L415.8 366.7L416.8 348.3L417.8 329.9L419.5 318.7L421.1 323.3L422.6 322.7L423.7 329.9L425.0 323.3L427.0 322.7L427.6 335.2L428.7 348.3L429.6 360.2L430.5 348.3L431.6 335.2L432.9 322.0L433.9 316.1L435.8 314.8L437.5 313.4L438.4 316.7L439.2 327.3L440.1 341.7L441.1 358.8L442.1 369.4L443.4 371.3L444.5 372.0L444.5 372.0ZM460.3 372.0L460.3 372.0L461.2 358.8L461.8 340.4L463.4 337.1L464.7 337.8L465.8 332.5L467.1 325.9L468.4 320.7L470.4 320.7L471.1 331.2L471.7 343.1L472.6 358.8L473.4 372.0L473.4 372.0ZM473.9 372.0L473.9 372.0L475.0 352.3L476.3 344.4L477.6 336.5L478.9 328.6L479.5 321.3L480.8 326.6L481.6 332.5L482.5 343.1L483.4 361.5L484.5 372.0L484.5 372.0ZM493.0 372.0L493.0 372.0L493.7 363.4L495.3 365.4L496.3 366.7L497.0 372.0L497.0 372.0ZM500.9 372.0L500.9 372.0L502.2 366.1L503.6 370.0L504.5 372.0L504.5 372.0ZM518.0 372.0L518.0 372.0L518.9 365.4L520.0 372.0L521.1 366.7L522.0 363.4L522.4 372.0L522.4 372.0ZM548.4 372.0L548.4 372.0L549.1 359.7L550.0 349.6L551.0 354.8L551.9 352.7L552.6 361.5L553.7 372.0L553.7 372.0Z"/><rect x="199.2" y="372.0" width="12.9" height="1.8"/><rect x="220.0" y="372.0" width="8.6" height="1.8"/><rect x="231.6" y="372.0" width="10.5" height="1.8"/><rect x="415.8" y="372.0" width="12.9" height="1.8"/><rect x="430.9" y="372.0" width="10.1" height="1.8"/><rect x="460.3" y="372.0" width="13.2" height="1.8"/></g>
<path d="M81.8 372.0L84.2 362.8L84.5 372.0M103.9 372.0L105.0 361.5L106.3 335.2L107.6 322.0L108.9 321.3L109.9 327.3L111.2 332.5L112.1 345.7L113.2 352.3L114.2 365.4L114.7 372.0M123.4 372.0L124.3 361.5L125.3 339.1L126.6 337.8L127.4 348.3L128.3 354.9L129.2 333.8L130.5 327.3L131.8 327.3L132.9 332.5L133.6 348.3L134.5 358.8L135.3 365.4L136.2 347.0L136.8 348.3L137.5 361.5L138.2 372.0M140.8 372.0L142.1 352.3L143.2 332.5L144.5 314.8L146.1 314.1L147.4 319.4L148.9 322.0L150.7 323.3L152.0 329.9L152.9 327.3L153.7 343.1L155.3 343.1L156.8 337.8L158.2 340.4L158.9 352.3L159.9 358.2L161.6 358.2L162.5 347.0L163.2 344.4L164.5 339.1L165.1 345.7L166.4 352.3L167.4 365.4L167.8 372.0M176.3 372.0L177.2 354.9L178.6 333.8L180.3 331.9L181.2 337.8L182.1 347.0L183.2 352.3L184.2 365.4L185.1 372.0M185.5 372.0L186.4 352.3L187.8 339.1L189.1 334.5L190.0 329.9L191.1 331.2L192.4 325.9L194.3 317.4L195.3 322.0L197.0 327.3L198.7 328.6L200.0 322.0L201.6 319.4L203.2 314.1L204.5 319.4L205.8 322.0L207.5 327.3L208.8 328.6L209.7 335.2L210.5 348.3L211.8 361.5L212.4 372.0M212.8 372.0L213.4 348.3L214.1 328.6L215.4 320.7L216.3 322.0L217.1 332.5L218.0 344.4L218.9 353.6L220.0 350.9L220.7 339.1L221.6 325.9L222.6 324.0L223.9 325.9L225.9 327.9L226.6 339.1L227.6 354.9L228.6 372.0M231.6 372.0L232.5 361.5L233.4 341.7L234.2 333.2L235.8 335.2L237.4 331.2L238.4 324.6L239.5 320.7L240.4 322.0L241.1 335.2L242.1 348.3L243.0 358.8L243.9 353.6L244.7 350.3L245.7 361.5L247.0 364.1L248.3 370.7L248.9 372.0M251.3 372.0L252.4 365.4L253.3 368.1L254.6 362.8L255.3 370.7L255.9 366.7L256.8 354.9L257.6 341.7L258.9 336.5L259.9 344.4L261.2 347.0L262.1 333.8L263.2 339.1L264.5 329.9L265.5 335.2L266.4 325.9L267.8 330.6L269.1 324.0L270.0 328.6L271.7 327.3L273.0 332.5L273.7 344.4L274.7 353.6L275.7 361.5L276.6 357.5L277.6 350.9L278.7 349.6L279.6 357.5L280.3 366.7L281.6 372.0M306.8 372.0L307.9 352.3L308.9 328.6L309.9 314.8L311.6 313.4L312.9 319.4L314.2 328.6L315.1 339.1L315.8 352.3L316.4 358.8L317.1 348.3L317.8 328.6L319.1 325.9L320.0 320.7L320.8 331.2L321.3 347.0L322.1 358.8L322.6 372.0M328.4 372.0L329.3 369.4L330.0 366.7L331.1 372.0M331.1 372.0L332.0 361.5L332.9 350.9L334.6 348.3L335.5 343.1L336.6 325.9L338.2 315.4L340.3 314.8L342.1 318.1L343.8 318.7L345.5 319.4L346.8 314.8L348.7 314.1L350.4 315.4L351.7 322.0L352.6 332.5L353.7 345.7L354.3 361.5L355.0 372.0M361.3 372.0L361.8 361.5L362.9 348.3L363.9 337.1L364.9 343.1L365.8 358.8L366.8 369.4L367.5 372.0M369.2 372.0L370.1 366.7L371.1 370.7L371.4 372.0M371.8 372.0L372.8 352.3L373.7 337.1L375.4 335.8L377.1 334.5L378.0 327.3L380.0 328.6L380.7 341.7L381.6 358.8L382.4 372.0M391.6 372.0L392.5 358.8L393.2 341.7L394.2 331.9L395.1 330.6L396.4 336.5L397.8 341.7L398.4 347.0L399.1 343.1L400.0 352.3L401.1 361.5L402.1 372.0M402.4 372.0L403.3 347.0L404.6 340.4L405.9 344.4L407.2 339.1L408.9 332.5L409.9 339.1L410.8 350.9L411.8 361.5L412.9 369.4L413.4 372.0M413.2 372.0L414.2 364.1L415.1 361.5L415.8 366.7L416.8 348.3L417.8 329.9L419.5 318.7L421.1 323.3L422.6 322.7L423.7 329.9L425.0 323.3L427.0 322.7L427.6 335.2L428.7 348.3L429.6 360.2L430.5 348.3L431.6 335.2L432.9 322.0L433.9 316.1L435.8 314.8L437.5 313.4L438.4 316.7L439.2 327.3L440.1 341.7L441.1 358.8L442.1 369.4L443.4 371.3L444.5 372.0M460.3 372.0L461.2 358.8L461.8 340.4L463.4 337.1L464.7 337.8L465.8 332.5L467.1 325.9L468.4 320.7L470.4 320.7L471.1 331.2L471.7 343.1L472.6 358.8L473.4 372.0M473.9 372.0L475.0 352.3L476.3 344.4L477.6 336.5L478.9 328.6L479.5 321.3L480.8 326.6L481.6 332.5L482.5 343.1L483.4 361.5L484.5 372.0M493.0 372.0L493.7 363.4L495.3 365.4L496.3 366.7L497.0 372.0M500.9 372.0L502.2 366.1L503.6 370.0L504.5 372.0M518.0 372.0L518.9 365.4L520.0 372.0L521.1 366.7L522.0 363.4L522.4 372.0M548.4 372.0L549.1 359.7L550.0 349.6L551.0 354.8L551.9 352.7L552.6 361.5L553.7 372.0" fill="none" stroke="#000" stroke-width="1.3" stroke-linejoin="miter" stroke-miterlimit="5"/>
<line x1="20.6" x2="655.3" y1="412.0" y2="412.0" stroke="#b4b4ff" stroke-width="1.1"/>
<g clip-path="url(#c6k)" fill="#ff9999"><path d="M46.6 441.2L46.6 441.2L47.4 428.0L47.9 404.4L48.7 384.6L50.3 384.6L51.3 393.8L51.8 404.4L52.6 416.2L53.6 404.4L54.5 388.6L55.5 382.6L57.5 382.3L59.5 384.6L62.1 388.6L65.4 390.5L66.1 404.4L66.7 421.5L67.6 434.6L68.4 440.5L69.3 433.3L70.7 431.3L72.0 432.0L72.9 422.8L73.9 410.9L75.0 397.8L76.6 395.1L77.6 389.9L78.9 389.9L80.3 393.8L80.8 404.4L81.6 417.5L82.1 433.3L82.9 441.2L82.9 441.2ZM89.1 441.2L89.1 441.2L90.4 435.9L91.3 439.9L92.4 434.0L93.0 441.2L93.0 441.2ZM98.7 441.2L98.7 441.2L98.9 433.3L100.0 428.7L101.3 433.3L101.6 441.2L101.6 441.2ZM103.9 441.2L103.9 441.2L104.9 417.5L105.8 403.0L106.8 398.4L108.2 397.8L108.8 410.9L109.7 422.8L110.8 428.0L112.1 424.8L113.2 430.7L114.1 434.6L114.5 441.2L114.5 441.2ZM124.2 441.2L124.2 441.2L125.0 424.1L125.5 408.3L126.8 401.7L127.9 417.5L128.9 428.0L129.5 410.9L130.3 399.1L131.2 395.1L132.1 404.4L133.2 410.9L134.2 428.0L135.1 435.9L136.1 421.5L136.8 420.8L137.4 433.3L137.8 441.2L137.8 441.2ZM141.1 441.2L141.1 441.2L142.1 421.5L143.0 404.4L144.3 392.5L145.0 384.4L147.0 384.0L147.9 388.6L148.9 391.2L150.0 401.7L150.9 410.9L152.2 413.6L153.2 420.1L154.2 416.2L155.5 404.4L156.6 412.3L157.9 406.3L158.8 417.5L159.7 426.7L160.8 425.4L161.8 410.9L162.8 401.1L163.7 409.6L164.7 417.5L166.1 430.7L167.4 435.9L167.6 441.2L167.6 441.2ZM177.9 441.2L177.9 441.2L178.9 428.0L179.9 412.3L180.8 414.9L181.8 422.8L182.5 433.3L182.9 441.2L182.9 441.2ZM186.4 441.2L186.4 441.2L187.8 435.9L189.1 417.5L190.4 404.4L192.1 395.1L194.3 385.9L195.7 389.9L197.4 395.1L198.9 397.8L200.0 403.0L201.3 393.8L202.6 384.6L203.9 389.9L205.3 395.1L206.8 399.1L208.4 403.0L209.7 405.7L210.5 417.5L211.4 430.7L212.1 441.2L212.1 441.2ZM212.8 441.2L212.8 441.2L213.4 417.5L214.1 401.7L215.4 404.4L216.3 407.0L217.1 417.5L218.0 428.0L218.9 430.7L219.7 424.1L220.7 410.9L221.6 392.5L223.3 395.1L224.6 393.2L225.9 396.5L226.6 410.9L227.2 428.0L227.9 441.2L227.9 441.2ZM231.6 441.2L231.6 441.2L232.5 421.5L233.4 407.0L234.5 401.7L235.8 401.7L237.1 397.8L238.4 395.1L239.5 391.2L240.4 393.8L241.1 410.9L242.1 430.7L242.6 441.2L242.6 441.2ZM244.3 441.2L244.3 441.2L245.0 434.6L246.1 432.0L247.4 433.3L247.9 441.2L247.9 441.2ZM251.1 441.2L251.1 441.2L252.4 439.6L253.3 441.2L253.3 441.2ZM255.5 441.2L255.5 441.2L256.6 430.7L257.6 412.3L258.9 412.3L259.2 418.8L260.5 418.8L261.2 410.9L262.1 403.7L263.8 402.4L265.1 406.3L266.4 400.4L267.8 403.7L268.7 396.5L270.4 394.5L271.7 393.8L272.6 399.1L273.4 412.3L274.3 426.7L275.3 433.3L276.3 428.0L277.0 416.2L278.3 414.9L279.2 420.1L280.0 430.7L280.5 435.9L281.3 441.2L281.3 441.2ZM306.8 441.2L306.8 441.2L307.6 424.1L308.6 404.4L309.5 389.9L310.5 385.9L312.1 385.3L313.2 389.9L314.2 395.1L315.1 404.4L315.8 414.9L316.8 421.5L317.8 410.9L318.7 404.4L320.0 397.8L320.8 404.4L321.3 417.5L322.1 428.0L322.6 441.2L322.6 441.2ZM328.7 441.2L328.7 441.2L330.0 435.9L331.1 437.3L331.6 441.2L331.6 441.2ZM332.4 441.2L332.4 441.2L332.9 433.3L333.9 424.1L335.0 410.9L336.3 404.4L337.2 393.8L338.6 387.9L339.5 383.3L340.8 388.6L342.1 392.5L342.9 397.8L344.2 399.1L345.5 396.5L346.8 391.2L348.4 387.9L350.0 388.6L351.3 392.5L352.1 404.4L353.0 410.9L353.7 421.5L354.3 433.3L355.0 441.2L355.0 441.2ZM362.6 441.2L362.6 441.2L362.9 422.8L363.6 401.1L364.9 407.0L365.5 421.5L366.6 434.6L367.5 441.2L367.5 441.2ZM371.4 441.2L371.4 441.2L372.4 430.7L373.4 420.1L374.1 412.3L375.4 417.5L376.7 421.5L378.0 414.9L378.9 403.0L380.7 400.4L381.1 417.5L381.6 430.7L382.4 441.2L382.4 441.2ZM388.6 441.2L388.6 441.2L389.5 439.9L390.3 441.2L390.3 441.2ZM391.6 441.2L391.6 441.2L392.5 430.7L393.4 417.5L393.8 401.7L395.1 400.4L395.8 410.9L397.1 417.5L398.2 424.1L399.1 426.7L400.4 429.4L401.7 426.7L402.1 421.5L403.0 412.3L403.7 405.7L404.7 409.6L405.7 417.5L406.6 428.0L407.6 417.5L408.7 405.7L410.0 404.4L410.8 414.9L411.6 425.4L412.5 435.9L413.2 441.2L413.2 441.2ZM413.2 441.2L413.2 441.2L414.2 430.7L415.5 421.5L417.1 407.0L417.8 400.4L419.5 393.2L421.3 392.5L423.0 395.1L424.7 394.5L426.3 391.2L427.4 396.5L427.9 417.5L428.7 441.2L428.7 441.2ZM430.5 441.2L430.5 441.2L431.6 428.0L432.2 410.9L433.2 395.1L434.5 389.9L436.2 383.3L437.9 384.0L438.8 391.2L439.2 404.4L440.1 424.1L441.1 435.9L441.8 439.9L442.8 437.9L444.1 437.9L444.5 441.2L444.5 441.2ZM459.5 441.2L459.5 441.2L460.5 433.3L461.6 421.5L462.5 416.2L463.8 412.3L465.1 414.9L466.4 408.3L467.4 400.4L468.4 391.2L469.7 391.2L470.8 400.4L471.7 410.9L472.4 424.1L473.0 435.9L473.4 441.2L473.4 441.2ZM473.9 441.2L473.9 441.2L475.0 428.0L475.5 416.2L476.8 408.3L477.6 401.1L479.2 403.7L480.5 407.0L481.6 420.1L482.9 433.3L483.4 441.2L483.4 441.2ZM543.9 441.2L543.9 441.2L544.7 439.8L545.6 441.2L546.7 440.1L547.4 431.0L548.8 423.2L550.2 418.4L550.9 425.8L551.9 424.0L552.6 431.0L553.7 428.4L554.9 431.0L555.4 441.2L555.4 441.2ZM557.2 441.2L557.2 441.2L558.4 437.2L559.6 437.2L560.7 441.2L560.7 441.2ZM576.4 441.2L576.4 441.2L577.1 439.8L577.8 441.2L577.8 441.2ZM650.0 441.2L650.0 441.2L650.7 439.8L652.1 441.2L652.1 441.2Z"/><rect x="46.6" y="441.2" width="21.1" height="1.8"/><rect x="73.3" y="441.2" width="9.6" height="1.8"/><rect x="103.9" y="441.2" width="5.8" height="1.8"/><rect x="124.2" y="441.2" width="10.5" height="1.8"/><rect x="141.1" y="441.2" width="26.6" height="1.8"/><rect x="178.2" y="441.2" width="4.7" height="1.8"/><rect x="187.1" y="441.2" width="12.1" height="1.8"/><rect x="212.8" y="441.2" width="7.0" height="1.8"/><rect x="255.9" y="441.2" width="25.1" height="1.8"/><rect x="306.8" y="441.2" width="15.8" height="1.8"/><rect x="332.6" y="441.2" width="22.4" height="1.8"/><rect x="362.9" y="441.2" width="4.2" height="1.8"/><rect x="371.8" y="441.2" width="10.1" height="1.8"/><rect x="391.8" y="441.2" width="6.6" height="1.8"/><rect x="401.7" y="441.2" width="10.9" height="1.8"/><rect x="474.2" y="441.2" width="9.2" height="1.8"/></g>
<g clip-path="url(#c6b)" fill="#9999ee"><path d="M46.6 441.2L46.6 441.2L47.4 428.0L47.9 404.4L48.7 384.6L50.3 384.6L51.3 393.8L51.8 404.4L52.6 416.2L53.6 404.4L54.5 388.6L55.5 382.6L57.5 382.3L59.5 384.6L62.1 388.6L65.4 390.5L66.1 404.4L66.7 421.5L67.6 434.6L68.4 440.5L69.3 433.3L70.7 431.3L72.0 432.0L72.9 422.8L73.9 410.9L75.0 397.8L76.6 395.1L77.6 389.9L78.9 389.9L80.3 393.8L80.8 404.4L81.6 417.5L82.1 433.3L82.9 441.2L82.9 441.2ZM89.1 441.2L89.1 441.2L90.4 435.9L91.3 439.9L92.4 434.0L93.0 441.2L93.0 441.2ZM98.7 441.2L98.7 441.2L98.9 433.3L100.0 428.7L101.3 433.3L101.6 441.2L101.6 441.2ZM103.9 441.2L103.9 441.2L104.9 417.5L105.8 403.0L106.8 398.4L108.2 397.8L108.8 410.9L109.7 422.8L110.8 428.0L112.1 424.8L113.2 430.7L114.1 434.6L114.5 441.2L114.5 441.2ZM124.2 441.2L124.2 441.2L125.0 424.1L125.5 408.3L126.8 401.7L127.9 417.5L128.9 428.0L129.5 410.9L130.3 399.1L131.2 395.1L132.1 404.4L133.2 410.9L134.2 428.0L135.1 435.9L136.1 421.5L136.8 420.8L137.4 433.3L137.8 441.2L137.8 441.2ZM141.1 441.2L141.1 441.2L142.1 421.5L143.0 404.4L144.3 392.5L145.0 384.4L147.0 384.0L147.9 388.6L148.9 391.2L150.0 401.7L150.9 410.9L152.2 413.6L153.2 420.1L154.2 416.2L155.5 404.4L156.6 412.3L157.9 406.3L158.8 417.5L159.7 426.7L160.8 425.4L161.8 410.9L162.8 401.1L163.7 409.6L164.7 417.5L166.1 430.7L167.4 435.9L167.6 441.2L167.6 441.2ZM177.9 441.2L177.9 441.2L178.9 428.0L179.9 412.3L180.8 414.9L181.8 422.8L182.5 433.3L182.9 441.2L182.9 441.2ZM186.4 441.2L186.4 441.2L187.8 435.9L189.1 417.5L190.4 404.4L192.1 395.1L194.3 385.9L195.7 389.9L197.4 395.1L198.9 397.8L200.0 403.0L201.3 393.8L202.6 384.6L203.9 389.9L205.3 395.1L206.8 399.1L208.4 403.0L209.7 405.7L210.5 417.5L211.4 430.7L212.1 441.2L212.1 441.2ZM212.8 441.2L212.8 441.2L213.4 417.5L214.1 401.7L215.4 404.4L216.3 407.0L217.1 417.5L218.0 428.0L218.9 430.7L219.7 424.1L220.7 410.9L221.6 392.5L223.3 395.1L224.6 393.2L225.9 396.5L226.6 410.9L227.2 428.0L227.9 441.2L227.9 441.2ZM231.6 441.2L231.6 441.2L232.5 421.5L233.4 407.0L234.5 401.7L235.8 401.7L237.1 397.8L238.4 395.1L239.5 391.2L240.4 393.8L241.1 410.9L242.1 430.7L242.6 441.2L242.6 441.2ZM244.3 441.2L244.3 441.2L245.0 434.6L246.1 432.0L247.4 433.3L247.9 441.2L247.9 441.2ZM251.1 441.2L251.1 441.2L252.4 439.6L253.3 441.2L253.3 441.2ZM255.5 441.2L255.5 441.2L256.6 430.7L257.6 412.3L258.9 412.3L259.2 418.8L260.5 418.8L261.2 410.9L262.1 403.7L263.8 402.4L265.1 406.3L266.4 400.4L267.8 403.7L268.7 396.5L270.4 394.5L271.7 393.8L272.6 399.1L273.4 412.3L274.3 426.7L275.3 433.3L276.3 428.0L277.0 416.2L278.3 414.9L279.2 420.1L280.0 430.7L280.5 435.9L281.3 441.2L281.3 441.2ZM306.8 441.2L306.8 441.2L307.6 424.1L308.6 404.4L309.5 389.9L310.5 385.9L312.1 385.3L313.2 389.9L314.2 395.1L315.1 404.4L315.8 414.9L316.8 421.5L317.8 410.9L318.7 404.4L320.0 397.8L320.8 404.4L321.3 417.5L322.1 428.0L322.6 441.2L322.6 441.2ZM328.7 441.2L328.7 441.2L330.0 435.9L331.1 437.3L331.6 441.2L331.6 441.2ZM332.4 441.2L332.4 441.2L332.9 433.3L333.9 424.1L335.0 410.9L336.3 404.4L337.2 393.8L338.6 387.9L339.5 383.3L340.8 388.6L342.1 392.5L342.9 397.8L344.2 399.1L345.5 396.5L346.8 391.2L348.4 387.9L350.0 388.6L351.3 392.5L352.1 404.4L353.0 410.9L353.7 421.5L354.3 433.3L355.0 441.2L355.0 441.2ZM362.6 441.2L362.6 441.2L362.9 422.8L363.6 401.1L364.9 407.0L365.5 421.5L366.6 434.6L367.5 441.2L367.5 441.2ZM371.4 441.2L371.4 441.2L372.4 430.7L373.4 420.1L374.1 412.3L375.4 417.5L376.7 421.5L378.0 414.9L378.9 403.0L380.7 400.4L381.1 417.5L381.6 430.7L382.4 441.2L382.4 441.2ZM388.6 441.2L388.6 441.2L389.5 439.9L390.3 441.2L390.3 441.2ZM391.6 441.2L391.6 441.2L392.5 430.7L393.4 417.5L393.8 401.7L395.1 400.4L395.8 410.9L397.1 417.5L398.2 424.1L399.1 426.7L400.4 429.4L401.7 426.7L402.1 421.5L403.0 412.3L403.7 405.7L404.7 409.6L405.7 417.5L406.6 428.0L407.6 417.5L408.7 405.7L410.0 404.4L410.8 414.9L411.6 425.4L412.5 435.9L413.2 441.2L413.2 441.2ZM413.2 441.2L413.2 441.2L414.2 430.7L415.5 421.5L417.1 407.0L417.8 400.4L419.5 393.2L421.3 392.5L423.0 395.1L424.7 394.5L426.3 391.2L427.4 396.5L427.9 417.5L428.7 441.2L428.7 441.2ZM430.5 441.2L430.5 441.2L431.6 428.0L432.2 410.9L433.2 395.1L434.5 389.9L436.2 383.3L437.9 384.0L438.8 391.2L439.2 404.4L440.1 424.1L441.1 435.9L441.8 439.9L442.8 437.9L444.1 437.9L444.5 441.2L444.5 441.2ZM459.5 441.2L459.5 441.2L460.5 433.3L461.6 421.5L462.5 416.2L463.8 412.3L465.1 414.9L466.4 408.3L467.4 400.4L468.4 391.2L469.7 391.2L470.8 400.4L471.7 410.9L472.4 424.1L473.0 435.9L473.4 441.2L473.4 441.2ZM473.9 441.2L473.9 441.2L475.0 428.0L475.5 416.2L476.8 408.3L477.6 401.1L479.2 403.7L480.5 407.0L481.6 420.1L482.9 433.3L483.4 441.2L483.4 441.2ZM543.9 441.2L543.9 441.2L544.7 439.8L545.6 441.2L546.7 440.1L547.4 431.0L548.8 423.2L550.2 418.4L550.9 425.8L551.9 424.0L552.6 431.0L553.7 428.4L554.9 431.0L555.4 441.2L555.4 441.2ZM557.2 441.2L557.2 441.2L558.4 437.2L559.6 437.2L560.7 441.2L560.7 441.2ZM576.4 441.2L576.4 441.2L577.1 439.8L577.8 441.2L577.8 441.2ZM650.0 441.2L650.0 441.2L650.7 439.8L652.1 441.2L652.1 441.2Z"/><rect x="199.2" y="441.2" width="12.9" height="1.8"/><rect x="219.7" y="441.2" width="8.2" height="1.8"/><rect x="231.6" y="441.2" width="11.1" height="1.8"/><rect x="415.8" y="441.2" width="12.9" height="1.8"/><rect x="430.9" y="441.2" width="10.1" height="1.8"/><rect x="459.9" y="441.2" width="13.6" height="1.8"/></g>
<path d="M46.6 441.2L47.4 428.0L47.9 404.4L48.7 384.6L50.3 384.6L51.3 393.8L51.8 404.4L52.6 416.2L53.6 404.4L54.5 388.6L55.5 382.6L57.5 382.3L59.5 384.6L62.1 388.6L65.4 390.5L66.1 404.4L66.7 421.5L67.6 434.6L68.4 440.5L69.3 433.3L70.7 431.3L72.0 432.0L72.9 422.8L73.9 410.9L75.0 397.8L76.6 395.1L77.6 389.9L78.9 389.9L80.3 393.8L80.8 404.4L81.6 417.5L82.1 433.3L82.9 441.2M89.1 441.2L90.4 435.9L91.3 439.9L92.4 434.0L93.0 441.2M98.7 441.2L98.9 433.3L100.0 428.7L101.3 433.3L101.6 441.2M103.9 441.2L104.9 417.5L105.8 403.0L106.8 398.4L108.2 397.8L108.8 410.9L109.7 422.8L110.8 428.0L112.1 424.8L113.2 430.7L114.1 434.6L114.5 441.2M124.2 441.2L125.0 424.1L125.5 408.3L126.8 401.7L127.9 417.5L128.9 428.0L129.5 410.9L130.3 399.1L131.2 395.1L132.1 404.4L133.2 410.9L134.2 428.0L135.1 435.9L136.1 421.5L136.8 420.8L137.4 433.3L137.8 441.2M141.1 441.2L142.1 421.5L143.0 404.4L144.3 392.5L145.0 384.4L147.0 384.0L147.9 388.6L148.9 391.2L150.0 401.7L150.9 410.9L152.2 413.6L153.2 420.1L154.2 416.2L155.5 404.4L156.6 412.3L157.9 406.3L158.8 417.5L159.7 426.7L160.8 425.4L161.8 410.9L162.8 401.1L163.7 409.6L164.7 417.5L166.1 430.7L167.4 435.9L167.6 441.2M177.9 441.2L178.9 428.0L179.9 412.3L180.8 414.9L181.8 422.8L182.5 433.3L182.9 441.2M186.4 441.2L187.8 435.9L189.1 417.5L190.4 404.4L192.1 395.1L194.3 385.9L195.7 389.9L197.4 395.1L198.9 397.8L200.0 403.0L201.3 393.8L202.6 384.6L203.9 389.9L205.3 395.1L206.8 399.1L208.4 403.0L209.7 405.7L210.5 417.5L211.4 430.7L212.1 441.2M212.8 441.2L213.4 417.5L214.1 401.7L215.4 404.4L216.3 407.0L217.1 417.5L218.0 428.0L218.9 430.7L219.7 424.1L220.7 410.9L221.6 392.5L223.3 395.1L224.6 393.2L225.9 396.5L226.6 410.9L227.2 428.0L227.9 441.2M231.6 441.2L232.5 421.5L233.4 407.0L234.5 401.7L235.8 401.7L237.1 397.8L238.4 395.1L239.5 391.2L240.4 393.8L241.1 410.9L242.1 430.7L242.6 441.2M244.3 441.2L245.0 434.6L246.1 432.0L247.4 433.3L247.9 441.2M251.1 441.2L252.4 439.6L253.3 441.2M255.5 441.2L256.6 430.7L257.6 412.3L258.9 412.3L259.2 418.8L260.5 418.8L261.2 410.9L262.1 403.7L263.8 402.4L265.1 406.3L266.4 400.4L267.8 403.7L268.7 396.5L270.4 394.5L271.7 393.8L272.6 399.1L273.4 412.3L274.3 426.7L275.3 433.3L276.3 428.0L277.0 416.2L278.3 414.9L279.2 420.1L280.0 430.7L280.5 435.9L281.3 441.2M306.8 441.2L307.6 424.1L308.6 404.4L309.5 389.9L310.5 385.9L312.1 385.3L313.2 389.9L314.2 395.1L315.1 404.4L315.8 414.9L316.8 421.5L317.8 410.9L318.7 404.4L320.0 397.8L320.8 404.4L321.3 417.5L322.1 428.0L322.6 441.2M328.7 441.2L330.0 435.9L331.1 437.3L331.6 441.2M332.4 441.2L332.9 433.3L333.9 424.1L335.0 410.9L336.3 404.4L337.2 393.8L338.6 387.9L339.5 383.3L340.8 388.6L342.1 392.5L342.9 397.8L344.2 399.1L345.5 396.5L346.8 391.2L348.4 387.9L350.0 388.6L351.3 392.5L352.1 404.4L353.0 410.9L353.7 421.5L354.3 433.3L355.0 441.2M362.6 441.2L362.9 422.8L363.6 401.1L364.9 407.0L365.5 421.5L366.6 434.6L367.5 441.2M371.4 441.2L372.4 430.7L373.4 420.1L374.1 412.3L375.4 417.5L376.7 421.5L378.0 414.9L378.9 403.0L380.7 400.4L381.1 417.5L381.6 430.7L382.4 441.2M388.6 441.2L389.5 439.9L390.3 441.2M391.6 441.2L392.5 430.7L393.4 417.5L393.8 401.7L395.1 400.4L395.8 410.9L397.1 417.5L398.2 424.1L399.1 426.7L400.4 429.4L401.7 426.7L402.1 421.5L403.0 412.3L403.7 405.7L404.7 409.6L405.7 417.5L406.6 428.0L407.6 417.5L408.7 405.7L410.0 404.4L410.8 414.9L411.6 425.4L412.5 435.9L413.2 441.2M413.2 441.2L414.2 430.7L415.5 421.5L417.1 407.0L417.8 400.4L419.5 393.2L421.3 392.5L423.0 395.1L424.7 394.5L426.3 391.2L427.4 396.5L427.9 417.5L428.7 441.2M430.5 441.2L431.6 428.0L432.2 410.9L433.2 395.1L434.5 389.9L436.2 383.3L437.9 384.0L438.8 391.2L439.2 404.4L440.1 424.1L441.1 435.9L441.8 439.9L442.8 437.9L444.1 437.9L444.5 441.2M459.5 441.2L460.5 433.3L461.6 421.5L462.5 416.2L463.8 412.3L465.1 414.9L466.4 408.3L467.4 400.4L468.4 391.2L469.7 391.2L470.8 400.4L471.7 410.9L472.4 424.1L473.0 435.9L473.4 441.2M473.9 441.2L475.0 428.0L475.5 416.2L476.8 408.3L477.6 401.1L479.2 403.7L480.5 407.0L481.6 420.1L482.9 433.3L483.4 441.2M543.9 441.2L544.7 439.8L545.6 441.2L546.7 440.1L547.4 431.0L548.8 423.2L550.2 418.4L550.9 425.8L551.9 424.0L552.6 431.0L553.7 428.4L554.9 431.0L555.4 441.2M557.2 441.2L558.4 437.2L559.6 437.2L560.7 441.2M576.4 441.2L577.1 439.8L577.8 441.2M650.0 441.2L650.7 439.8L652.1 441.2" fill="none" stroke="#000" stroke-width="1.3" stroke-linejoin="miter" stroke-miterlimit="5"/>
<line x1="20.6" x2="655.3" y1="479.5" y2="479.5" stroke="#b4b4ff" stroke-width="1.1"/>
<g clip-path="url(#c7k)" fill="#ff9999"><path d="M32.5 508.7L32.5 508.7L33.4 498.8L34.5 489.6L35.5 498.8L36.4 508.7L36.4 508.7ZM36.4 508.7L36.4 508.7L37.1 485.7L38.2 465.9L39.5 454.1L41.1 450.8L43.0 453.4L45.0 452.1L47.0 450.8L49.2 450.1L50.9 453.4L51.8 460.7L52.6 468.6L53.6 468.6L54.5 458.0L55.8 450.8L57.5 449.5L59.5 450.8L61.1 453.4L62.8 459.4L64.1 469.9L65.4 485.7L66.3 498.8L67.1 508.7L67.1 508.7ZM71.3 508.7L71.3 508.7L72.4 492.3L73.3 476.5L74.6 465.9L75.5 469.9L76.6 475.1L77.6 468.6L78.9 467.3L79.9 472.5L80.5 483.0L81.2 498.8L81.8 508.7L81.8 508.7ZM90.0 508.7L90.0 508.7L91.1 502.1L92.1 505.4L92.6 508.7L92.6 508.7ZM103.6 508.7L103.6 508.7L104.9 496.2L105.8 480.4L106.6 470.5L107.9 472.5L108.8 476.5L109.5 489.6L110.5 498.8L111.4 505.4L112.1 508.7L112.1 508.7ZM111.8 508.7L111.8 508.7L113.2 504.1L114.5 501.5L115.8 505.4L116.1 508.7L116.1 508.7ZM124.2 508.7L124.2 508.7L125.0 501.5L125.9 489.6L126.6 483.7L127.9 485.7L128.9 490.9L129.9 485.7L131.2 484.4L132.5 487.0L133.2 496.2L133.8 504.1L134.5 508.7L134.5 508.7ZM141.3 508.7L141.3 508.7L142.4 496.2L143.0 479.1L143.9 465.9L145.0 451.5L146.6 451.5L147.6 456.7L148.9 460.7L150.3 467.3L151.8 469.2L152.9 479.1L154.2 485.7L155.5 490.9L156.8 488.3L157.5 492.3L158.4 488.3L158.8 498.8L159.7 505.4L160.5 508.7L160.5 508.7ZM160.5 508.7L160.5 508.7L161.4 506.7L162.4 500.1L163.4 505.4L163.7 508.7L163.7 508.7ZM168.9 508.7L168.9 508.7L170.3 499.5L171.6 508.7L171.6 508.7ZM176.8 508.7L176.8 508.7L177.6 498.8L178.2 485.7L179.2 483.7L180.5 487.0L181.6 496.2L182.5 502.8L183.4 508.7L183.4 508.7ZM187.1 508.7L187.1 508.7L187.8 501.5L189.1 498.8L190.0 485.7L191.3 472.5L192.6 463.3L194.3 456.1L195.7 459.4L197.0 464.6L198.7 466.6L200.0 469.9L201.3 462.0L202.6 455.4L203.9 459.4L205.3 460.7L206.6 467.3L208.4 469.2L209.5 472.5L210.5 485.7L211.4 498.8L211.8 504.1L212.8 485.7L213.7 467.3L214.7 460.0L216.1 464.6L216.7 479.1L217.6 492.3L218.7 501.5L219.3 498.8L220.3 485.7L221.3 465.9L222.9 460.7L224.2 465.3L226.3 465.9L226.8 480.4L227.6 496.2L228.6 508.7L228.6 508.7ZM231.6 508.7L231.6 508.7L232.5 489.6L233.4 472.5L234.5 465.3L236.1 466.6L237.8 467.3L238.7 462.6L240.0 467.3L241.1 479.1L242.1 492.3L243.0 502.8L244.3 504.1L245.7 505.4L246.1 508.7L246.1 508.7ZM255.3 508.7L255.3 508.7L256.3 498.8L257.2 489.6L258.6 488.3L259.5 498.8L260.5 504.1L261.6 492.3L262.5 483.0L263.2 477.8L263.8 489.6L264.7 496.2L265.8 485.7L267.1 473.8L268.7 473.2L270.4 471.2L272.1 471.2L272.6 477.8L273.4 485.7L274.3 498.8L275.0 508.7L275.0 508.7ZM301.1 508.7L301.1 508.7L301.6 498.8L302.6 504.1L303.7 508.7L303.7 508.7ZM306.8 508.7L306.8 508.7L307.9 492.3L308.9 472.5L309.9 456.7L311.2 455.4L312.5 458.0L313.2 465.9L314.5 472.5L315.1 483.0L316.1 490.9L317.1 489.6L318.2 483.0L319.1 476.5L320.4 473.8L321.3 483.0L322.1 498.8L322.6 508.7L322.6 508.7ZM323.7 508.7L323.7 508.7L324.7 502.8L325.0 508.7L325.0 508.7ZM331.1 508.7L331.1 508.7L332.0 501.5L333.3 492.3L334.6 485.7L335.9 475.1L336.8 462.0L338.2 454.1L339.9 452.8L340.8 459.4L341.8 467.3L342.5 473.8L343.4 463.3L344.5 455.4L345.5 459.4L346.8 460.0L348.2 455.4L349.5 452.1L350.8 456.7L351.7 462.0L352.6 472.5L353.4 483.0L354.3 496.2L355.0 508.7L355.0 508.7ZM360.5 508.7L360.5 508.7L361.6 502.8L362.6 492.3L363.6 485.7L364.5 477.8L365.3 474.5L365.5 489.6L366.6 501.5L367.5 502.8L368.4 496.2L369.2 508.7L369.2 508.7ZM371.4 508.7L371.4 508.7L372.4 501.5L373.4 489.6L374.5 479.1L375.4 485.7L376.3 483.0L377.4 480.4L378.4 474.5L380.0 476.5L380.7 485.7L381.6 496.2L382.4 504.1L382.9 508.7L382.9 508.7ZM385.3 508.7L385.3 508.7L386.3 504.1L387.2 501.5L387.6 508.7L387.6 508.7ZM390.3 508.7L390.3 508.7L391.6 507.4L392.5 498.8L393.2 485.7L393.8 473.2L395.1 473.2L395.8 477.8L397.1 480.4L397.8 489.6L398.7 498.8L399.7 505.4L400.8 508.7L400.8 508.7ZM401.1 508.7L401.1 508.7L402.0 502.8L402.9 492.3L403.9 484.4L405.0 488.3L405.9 490.9L406.8 483.0L407.6 475.1L408.9 476.5L409.9 481.7L410.8 489.6L411.8 498.8L412.9 504.1L413.8 498.8L414.7 493.6L415.8 485.7L417.1 469.9L418.4 468.6L419.5 463.3L420.4 467.3L421.7 467.9L423.0 469.9L424.3 467.3L425.7 462.0L427.0 459.4L427.6 469.9L428.3 485.7L429.2 501.5L430.0 508.7L430.0 508.7ZM430.3 508.7L430.3 508.7L431.3 496.2L432.2 479.1L433.2 462.0L434.5 454.1L436.2 452.8L437.5 454.8L438.4 463.3L439.2 476.5L440.1 492.3L441.1 504.1L441.8 508.7L441.8 508.7ZM443.2 508.7L443.2 508.7L444.1 507.4L444.7 508.7L444.7 508.7ZM460.3 508.7L460.3 508.7L461.2 496.2L461.8 472.5L463.2 465.9L464.7 464.6L465.8 466.6L467.1 463.3L468.4 458.7L469.7 459.4L470.8 469.9L471.7 483.0L472.6 496.2L473.4 505.4L473.9 508.7L473.9 508.7ZM474.2 508.7L474.2 508.7L475.3 496.2L476.3 488.3L477.6 479.1L478.9 469.9L479.9 468.6L481.2 470.5L482.1 479.1L482.9 492.3L483.8 502.8L484.7 508.0L485.8 507.4L486.8 508.7L486.8 508.7ZM495.7 508.7L495.7 508.7L496.6 507.4L497.4 508.7L497.4 508.7ZM508.8 508.7L508.8 508.7L509.7 507.4L510.5 508.7L510.5 508.7ZM554.9 508.7L554.9 508.7L555.8 502.6L556.6 498.7L557.5 504.3L558.0 508.7L558.0 508.7ZM579.4 508.7L579.4 508.7L580.3 503.4L581.3 508.7L582.0 504.3L583.3 501.7L583.4 508.7L583.4 508.7ZM599.6 508.7L599.6 508.7L600.4 507.5L601.3 508.7L601.3 508.7ZM611.5 508.7L611.5 508.7L612.2 503.4L613.2 504.3L613.6 508.7L615.0 507.8L616.2 508.7L616.2 508.7ZM634.3 508.7L634.3 508.7L635.7 500.8L636.0 508.7L636.0 508.7Z"/><rect x="36.4" y="508.7" width="30.7" height="1.8"/><rect x="71.3" y="508.7" width="10.5" height="1.8"/><rect x="103.9" y="508.7" width="7.5" height="1.8"/><rect x="124.6" y="508.7" width="4.9" height="1.8"/><rect x="141.3" y="508.7" width="14.9" height="1.8"/><rect x="176.8" y="508.7" width="6.3" height="1.8"/><rect x="187.8" y="508.7" width="11.4" height="1.8"/><rect x="212.1" y="508.7" width="7.2" height="1.8"/><rect x="265.1" y="508.7" width="9.9" height="1.8"/><rect x="306.8" y="508.7" width="15.8" height="1.8"/><rect x="331.3" y="508.7" width="23.7" height="1.8"/><rect x="361.6" y="508.7" width="4.6" height="1.8"/><rect x="371.8" y="508.7" width="10.5" height="1.8"/><rect x="391.8" y="508.7" width="7.9" height="1.8"/><rect x="405.9" y="508.7" width="7.0" height="1.8"/><rect x="474.6" y="508.7" width="9.9" height="1.8"/></g>
<g clip-path="url(#c7b)" fill="#9999ee"><path d="M32.5 508.7L32.5 508.7L33.4 498.8L34.5 489.6L35.5 498.8L36.4 508.7L36.4 508.7ZM36.4 508.7L36.4 508.7L37.1 485.7L38.2 465.9L39.5 454.1L41.1 450.8L43.0 453.4L45.0 452.1L47.0 450.8L49.2 450.1L50.9 453.4L51.8 460.7L52.6 468.6L53.6 468.6L54.5 458.0L55.8 450.8L57.5 449.5L59.5 450.8L61.1 453.4L62.8 459.4L64.1 469.9L65.4 485.7L66.3 498.8L67.1 508.7L67.1 508.7ZM71.3 508.7L71.3 508.7L72.4 492.3L73.3 476.5L74.6 465.9L75.5 469.9L76.6 475.1L77.6 468.6L78.9 467.3L79.9 472.5L80.5 483.0L81.2 498.8L81.8 508.7L81.8 508.7ZM90.0 508.7L90.0 508.7L91.1 502.1L92.1 505.4L92.6 508.7L92.6 508.7ZM103.6 508.7L103.6 508.7L104.9 496.2L105.8 480.4L106.6 470.5L107.9 472.5L108.8 476.5L109.5 489.6L110.5 498.8L111.4 505.4L112.1 508.7L112.1 508.7ZM111.8 508.7L111.8 508.7L113.2 504.1L114.5 501.5L115.8 505.4L116.1 508.7L116.1 508.7ZM124.2 508.7L124.2 508.7L125.0 501.5L125.9 489.6L126.6 483.7L127.9 485.7L128.9 490.9L129.9 485.7L131.2 484.4L132.5 487.0L133.2 496.2L133.8 504.1L134.5 508.7L134.5 508.7ZM141.3 508.7L141.3 508.7L142.4 496.2L143.0 479.1L143.9 465.9L145.0 451.5L146.6 451.5L147.6 456.7L148.9 460.7L150.3 467.3L151.8 469.2L152.9 479.1L154.2 485.7L155.5 490.9L156.8 488.3L157.5 492.3L158.4 488.3L158.8 498.8L159.7 505.4L160.5 508.7L160.5 508.7ZM160.5 508.7L160.5 508.7L161.4 506.7L162.4 500.1L163.4 505.4L163.7 508.7L163.7 508.7ZM168.9 508.7L168.9 508.7L170.3 499.5L171.6 508.7L171.6 508.7ZM176.8 508.7L176.8 508.7L177.6 498.8L178.2 485.7L179.2 483.7L180.5 487.0L181.6 496.2L182.5 502.8L183.4 508.7L183.4 508.7ZM187.1 508.7L187.1 508.7L187.8 501.5L189.1 498.8L190.0 485.7L191.3 472.5L192.6 463.3L194.3 456.1L195.7 459.4L197.0 464.6L198.7 466.6L200.0 469.9L201.3 462.0L202.6 455.4L203.9 459.4L205.3 460.7L206.6 467.3L208.4 469.2L209.5 472.5L210.5 485.7L211.4 498.8L211.8 504.1L212.8 485.7L213.7 467.3L214.7 460.0L216.1 464.6L216.7 479.1L217.6 492.3L218.7 501.5L219.3 498.8L220.3 485.7L221.3 465.9L222.9 460.7L224.2 465.3L226.3 465.9L226.8 480.4L227.6 496.2L228.6 508.7L228.6 508.7ZM231.6 508.7L231.6 508.7L232.5 489.6L233.4 472.5L234.5 465.3L236.1 466.6L237.8 467.3L238.7 462.6L240.0 467.3L241.1 479.1L242.1 492.3L243.0 502.8L244.3 504.1L245.7 505.4L246.1 508.7L246.1 508.7ZM255.3 508.7L255.3 508.7L256.3 498.8L257.2 489.6L258.6 488.3L259.5 498.8L260.5 504.1L261.6 492.3L262.5 483.0L263.2 477.8L263.8 489.6L264.7 496.2L265.8 485.7L267.1 473.8L268.7 473.2L270.4 471.2L272.1 471.2L272.6 477.8L273.4 485.7L274.3 498.8L275.0 508.7L275.0 508.7ZM301.1 508.7L301.1 508.7L301.6 498.8L302.6 504.1L303.7 508.7L303.7 508.7ZM306.8 508.7L306.8 508.7L307.9 492.3L308.9 472.5L309.9 456.7L311.2 455.4L312.5 458.0L313.2 465.9L314.5 472.5L315.1 483.0L316.1 490.9L317.1 489.6L318.2 483.0L319.1 476.5L320.4 473.8L321.3 483.0L322.1 498.8L322.6 508.7L322.6 508.7ZM323.7 508.7L323.7 508.7L324.7 502.8L325.0 508.7L325.0 508.7ZM331.1 508.7L331.1 508.7L332.0 501.5L333.3 492.3L334.6 485.7L335.9 475.1L336.8 462.0L338.2 454.1L339.9 452.8L340.8 459.4L341.8 467.3L342.5 473.8L343.4 463.3L344.5 455.4L345.5 459.4L346.8 460.0L348.2 455.4L349.5 452.1L350.8 456.7L351.7 462.0L352.6 472.5L353.4 483.0L354.3 496.2L355.0 508.7L355.0 508.7ZM360.5 508.7L360.5 508.7L361.6 502.8L362.6 492.3L363.6 485.7L364.5 477.8L365.3 474.5L365.5 489.6L366.6 501.5L367.5 502.8L368.4 496.2L369.2 508.7L369.2 508.7ZM371.4 508.7L371.4 508.7L372.4 501.5L373.4 489.6L374.5 479.1L375.4 485.7L376.3 483.0L377.4 480.4L378.4 474.5L380.0 476.5L380.7 485.7L381.6 496.2L382.4 504.1L382.9 508.7L382.9 508.7ZM385.3 508.7L385.3 508.7L386.3 504.1L387.2 501.5L387.6 508.7L387.6 508.7ZM390.3 508.7L390.3 508.7L391.6 507.4L392.5 498.8L393.2 485.7L393.8 473.2L395.1 473.2L395.8 477.8L397.1 480.4L397.8 489.6L398.7 498.8L399.7 505.4L400.8 508.7L400.8 508.7ZM401.1 508.7L401.1 508.7L402.0 502.8L402.9 492.3L403.9 484.4L405.0 488.3L405.9 490.9L406.8 483.0L407.6 475.1L408.9 476.5L409.9 481.7L410.8 489.6L411.8 498.8L412.9 504.1L413.8 498.8L414.7 493.6L415.8 485.7L417.1 469.9L418.4 468.6L419.5 463.3L420.4 467.3L421.7 467.9L423.0 469.9L424.3 467.3L425.7 462.0L427.0 459.4L427.6 469.9L428.3 485.7L429.2 501.5L430.0 508.7L430.0 508.7ZM430.3 508.7L430.3 508.7L431.3 496.2L432.2 479.1L433.2 462.0L434.5 454.1L436.2 452.8L437.5 454.8L438.4 463.3L439.2 476.5L440.1 492.3L441.1 504.1L441.8 508.7L441.8 508.7ZM443.2 508.7L443.2 508.7L444.1 507.4L444.7 508.7L444.7 508.7ZM460.3 508.7L460.3 508.7L461.2 496.2L461.8 472.5L463.2 465.9L464.7 464.6L465.8 466.6L467.1 463.3L468.4 458.7L469.7 459.4L470.8 469.9L471.7 483.0L472.6 496.2L473.4 505.4L473.9 508.7L473.9 508.7ZM474.2 508.7L474.2 508.7L475.3 496.2L476.3 488.3L477.6 479.1L478.9 469.9L479.9 468.6L481.2 470.5L482.1 479.1L482.9 492.3L483.8 502.8L484.7 508.0L485.8 507.4L486.8 508.7L486.8 508.7ZM495.7 508.7L495.7 508.7L496.6 507.4L497.4 508.7L497.4 508.7ZM508.8 508.7L508.8 508.7L509.7 507.4L510.5 508.7L510.5 508.7ZM554.9 508.7L554.9 508.7L555.8 502.6L556.6 498.7L557.5 504.3L558.0 508.7L558.0 508.7ZM579.4 508.7L579.4 508.7L580.3 503.4L581.3 508.7L582.0 504.3L583.3 501.7L583.4 508.7L583.4 508.7ZM599.6 508.7L599.6 508.7L600.4 507.5L601.3 508.7L601.3 508.7ZM611.5 508.7L611.5 508.7L612.2 503.4L613.2 504.3L613.6 508.7L615.0 507.8L616.2 508.7L616.2 508.7ZM634.3 508.7L634.3 508.7L635.7 500.8L636.0 508.7L636.0 508.7Z"/><rect x="199.2" y="508.7" width="12.9" height="1.8"/><rect x="219.3" y="508.7" width="9.2" height="1.8"/><rect x="231.6" y="508.7" width="10.5" height="1.8"/><rect x="415.8" y="508.7" width="13.9" height="1.8"/><rect x="430.5" y="508.7" width="10.8" height="1.8"/><rect x="460.3" y="508.7" width="13.4" height="1.8"/></g>
<path d="M32.5 508.7L33.4 498.8L34.5 489.6L35.5 498.8L36.4 508.7M36.4 508.7L37.1 485.7L38.2 465.9L39.5 454.1L41.1 450.8L43.0 453.4L45.0 452.1L47.0 450.8L49.2 450.1L50.9 453.4L51.8 460.7L52.6 468.6L53.6 468.6L54.5 458.0L55.8 450.8L57.5 449.5L59.5 450.8L61.1 453.4L62.8 459.4L64.1 469.9L65.4 485.7L66.3 498.8L67.1 508.7M71.3 508.7L72.4 492.3L73.3 476.5L74.6 465.9L75.5 469.9L76.6 475.1L77.6 468.6L78.9 467.3L79.9 472.5L80.5 483.0L81.2 498.8L81.8 508.7M90.0 508.7L91.1 502.1L92.1 505.4L92.6 508.7M103.6 508.7L104.9 496.2L105.8 480.4L106.6 470.5L107.9 472.5L108.8 476.5L109.5 489.6L110.5 498.8L111.4 505.4L112.1 508.7M111.8 508.7L113.2 504.1L114.5 501.5L115.8 505.4L116.1 508.7M124.2 508.7L125.0 501.5L125.9 489.6L126.6 483.7L127.9 485.7L128.9 490.9L129.9 485.7L131.2 484.4L132.5 487.0L133.2 496.2L133.8 504.1L134.5 508.7M141.3 508.7L142.4 496.2L143.0 479.1L143.9 465.9L145.0 451.5L146.6 451.5L147.6 456.7L148.9 460.7L150.3 467.3L151.8 469.2L152.9 479.1L154.2 485.7L155.5 490.9L156.8 488.3L157.5 492.3L158.4 488.3L158.8 498.8L159.7 505.4L160.5 508.7M160.5 508.7L161.4 506.7L162.4 500.1L163.4 505.4L163.7 508.7M168.9 508.7L170.3 499.5L171.6 508.7M176.8 508.7L177.6 498.8L178.2 485.7L179.2 483.7L180.5 487.0L181.6 496.2L182.5 502.8L183.4 508.7M187.1 508.7L187.8 501.5L189.1 498.8L190.0 485.7L191.3 472.5L192.6 463.3L194.3 456.1L195.7 459.4L197.0 464.6L198.7 466.6L200.0 469.9L201.3 462.0L202.6 455.4L203.9 459.4L205.3 460.7L206.6 467.3L208.4 469.2L209.5 472.5L210.5 485.7L211.4 498.8L211.8 504.1L212.8 485.7L213.7 467.3L214.7 460.0L216.1 464.6L216.7 479.1L217.6 492.3L218.7 501.5L219.3 498.8L220.3 485.7L221.3 465.9L222.9 460.7L224.2 465.3L226.3 465.9L226.8 480.4L227.6 496.2L228.6 508.7M231.6 508.7L232.5 489.6L233.4 472.5L234.5 465.3L236.1 466.6L237.8 467.3L238.7 462.6L240.0 467.3L241.1 479.1L242.1 492.3L243.0 502.8L244.3 504.1L245.7 505.4L246.1 508.7M255.3 508.7L256.3 498.8L257.2 489.6L258.6 488.3L259.5 498.8L260.5 504.1L261.6 492.3L262.5 483.0L263.2 477.8L263.8 489.6L264.7 496.2L265.8 485.7L267.1 473.8L268.7 473.2L270.4 471.2L272.1 471.2L272.6 477.8L273.4 485.7L274.3 498.8L275.0 508.7M301.1 508.7L301.6 498.8L302.6 504.1L303.7 508.7M306.8 508.7L307.9 492.3L308.9 472.5L309.9 456.7L311.2 455.4L312.5 458.0L313.2 465.9L314.5 472.5L315.1 483.0L316.1 490.9L317.1 489.6L318.2 483.0L319.1 476.5L320.4 473.8L321.3 483.0L322.1 498.8L322.6 508.7M323.7 508.7L324.7 502.8L325.0 508.7M331.1 508.7L332.0 501.5L333.3 492.3L334.6 485.7L335.9 475.1L336.8 462.0L338.2 454.1L339.9 452.8L340.8 459.4L341.8 467.3L342.5 473.8L343.4 463.3L344.5 455.4L345.5 459.4L346.8 460.0L348.2 455.4L349.5 452.1L350.8 456.7L351.7 462.0L352.6 472.5L353.4 483.0L354.3 496.2L355.0 508.7M360.5 508.7L361.6 502.8L362.6 492.3L363.6 485.7L364.5 477.8L365.3 474.5L365.5 489.6L366.6 501.5L367.5 502.8L368.4 496.2L369.2 508.7M371.4 508.7L372.4 501.5L373.4 489.6L374.5 479.1L375.4 485.7L376.3 483.0L377.4 480.4L378.4 474.5L380.0 476.5L380.7 485.7L381.6 496.2L382.4 504.1L382.9 508.7M385.3 508.7L386.3 504.1L387.2 501.5L387.6 508.7M390.3 508.7L391.6 507.4L392.5 498.8L393.2 485.7L393.8 473.2L395.1 473.2L395.8 477.8L397.1 480.4L397.8 489.6L398.7 498.8L399.7 505.4L400.8 508.7M401.1 508.7L402.0 502.8L402.9 492.3L403.9 484.4L405.0 488.3L405.9 490.9L406.8 483.0L407.6 475.1L408.9 476.5L409.9 481.7L410.8 489.6L411.8 498.8L412.9 504.1L413.8 498.8L414.7 493.6L415.8 485.7L417.1 469.9L418.4 468.6L419.5 463.3L420.4 467.3L421.7 467.9L423.0 469.9L424.3 467.3L425.7 462.0L427.0 459.4L427.6 469.9L428.3 485.7L429.2 501.5L430.0 508.7M430.3 508.7L431.3 496.2L432.2 479.1L433.2 462.0L434.5 454.1L436.2 452.8L437.5 454.8L438.4 463.3L439.2 476.5L440.1 492.3L441.1 504.1L441.8 508.7M443.2 508.7L444.1 507.4L444.7 508.7M460.3 508.7L461.2 496.2L461.8 472.5L463.2 465.9L464.7 464.6L465.8 466.6L467.1 463.3L468.4 458.7L469.7 459.4L470.8 469.9L471.7 483.0L472.6 496.2L473.4 505.4L473.9 508.7M474.2 508.7L475.3 496.2L476.3 488.3L477.6 479.1L478.9 469.9L479.9 468.6L481.2 470.5L482.1 479.1L482.9 492.3L483.8 502.8L484.7 508.0L485.8 507.4L486.8 508.7M495.7 508.7L496.6 507.4L497.4 508.7M508.8 508.7L509.7 507.4L510.5 508.7M554.9 508.7L555.8 502.6L556.6 498.7L557.5 504.3L558.0 508.7M579.4 508.7L580.3 503.4L581.3 508.7L582.0 504.3L583.3 501.7L583.4 508.7M599.6 508.7L600.4 507.5L601.3 508.7M611.5 508.7L612.2 503.4L613.2 504.3L613.6 508.7L615.0 507.8L616.2 508.7M634.3 508.7L635.7 500.8L636.0 508.7" fill="none" stroke="#000" stroke-width="1.3" stroke-linejoin="miter" stroke-miterlimit="5"/>
<path d="M20.6 35.5H655.3M20.6 96.3H655.3" stroke="#000" stroke-width="1.25" fill="none"/>
<path d="M20.6 103.3H655.3M20.6 164.3H655.3" stroke="#000" stroke-width="1.25" fill="none"/>
<path d="M20.6 172.0H655.3M20.6 233.2H655.3" stroke="#000" stroke-width="1.25" fill="none"/>
<path d="M20.6 242.2H655.3M20.6 303.3H655.3" stroke="#000" stroke-width="1.25" fill="none"/>
<path d="M20.6 310.9H655.3M20.6 372.0H655.3" stroke="#000" stroke-width="1.25" fill="none"/>
<path d="M20.6 379.9H655.3M20.6 441.2H655.3" stroke="#000" stroke-width="1.25" fill="none"/>
<path d="M20.6 447.7H655.3M20.6 508.7H655.3" stroke="#000" stroke-width="1.25" fill="none"/>
<path d="M20.6 35.5V515.3M655.3 35.5V515.3M20.6 515.3H655.3" stroke="#000" stroke-width="1.25" fill="none"/>
<rect x="304.5" y="23.7" width="20.7" height="497.6" fill="none" stroke="#000" stroke-width="1.25"/>
<rect x="333.6" y="23.7" width="22" height="497.6" fill="none" stroke="#000" stroke-width="1.25"/>
<line x1="23.6" x2="23.6" y1="515.9" y2="521.7" stroke="#444" stroke-width="1.2"/>
<text x="22.1" y="532.3" font-size="9.5" fill="#444" text-anchor="middle">0.1k</text>
<line x1="59.0" x2="59.0" y1="515.9" y2="519.9" stroke="#444" stroke-width="1.2"/>
<line x1="94.3" x2="94.3" y1="515.9" y2="521.7" stroke="#444" stroke-width="1.2"/>
<text x="92.8" y="532.3" font-size="9.5" fill="#444" text-anchor="middle">2.1k</text>
<line x1="129.7" x2="129.7" y1="515.9" y2="519.9" stroke="#444" stroke-width="1.2"/>
<line x1="165.1" x2="165.1" y1="515.9" y2="521.7" stroke="#444" stroke-width="1.2"/>
<text x="163.6" y="532.3" font-size="9.5" fill="#444" text-anchor="middle">4.1k</text>
<line x1="200.4" x2="200.4" y1="515.9" y2="519.9" stroke="#444" stroke-width="1.2"/>
<line x1="235.8" x2="235.8" y1="515.9" y2="521.7" stroke="#444" stroke-width="1.2"/>
<text x="234.3" y="532.3" font-size="9.5" fill="#444" text-anchor="middle">6.1k</text>
<line x1="271.2" x2="271.2" y1="515.9" y2="519.9" stroke="#444" stroke-width="1.2"/>
<line x1="306.6" x2="306.6" y1="515.9" y2="521.7" stroke="#444" stroke-width="1.2"/>
<text x="305.1" y="532.3" font-size="9.5" fill="#444" text-anchor="middle">8.1k</text>
<line x1="341.9" x2="341.9" y1="515.9" y2="519.9" stroke="#444" stroke-width="1.2"/>
<line x1="377.3" x2="377.3" y1="515.9" y2="521.7" stroke="#444" stroke-width="1.2"/>
<text x="375.8" y="532.3" font-size="9.5" fill="#444" text-anchor="middle">10.1k</text>
<line x1="412.7" x2="412.7" y1="515.9" y2="519.9" stroke="#444" stroke-width="1.2"/>
<line x1="448.0" x2="448.0" y1="515.9" y2="521.7" stroke="#444" stroke-width="1.2"/>
<text x="446.5" y="532.3" font-size="9.5" fill="#444" text-anchor="middle">12.1k</text>
<line x1="483.4" x2="483.4" y1="515.9" y2="519.9" stroke="#444" stroke-width="1.2"/>
<line x1="518.8" x2="518.8" y1="515.9" y2="521.7" stroke="#444" stroke-width="1.2"/>
<text x="517.3" y="532.3" font-size="9.5" fill="#444" text-anchor="middle">14.1k</text>
<line x1="554.1" x2="554.1" y1="515.9" y2="519.9" stroke="#444" stroke-width="1.2"/>
<line x1="589.5" x2="589.5" y1="515.9" y2="521.7" stroke="#444" stroke-width="1.2"/>
<text x="588.0" y="532.3" font-size="9.5" fill="#444" text-anchor="middle">16.1k</text>
<line x1="624.9" x2="624.9" y1="515.9" y2="519.9" stroke="#444" stroke-width="1.2"/>
<text x="657.7" y="42.5" font-size="10.7" fill="#000">100%</text>
<text x="657.7" y="92.7" font-size="10.7" fill="#000">50%</text>
<text transform="translate(13.3 67.3) rotate(-90)" font-size="17.5" fill="#111" text-anchor="middle">Hsa</text>
<text x="657.7" y="110.3" font-size="10.7" fill="#000">100%</text>
<text x="657.7" y="160.7" font-size="10.7" fill="#000">50%</text>
<text transform="translate(13.3 134.1) rotate(-90)" font-size="17.5" fill="#111" text-anchor="middle">Dre</text>
<text x="657.7" y="179.0" font-size="10.7" fill="#000">100%</text>
<text x="657.7" y="229.6" font-size="10.7" fill="#000">50%</text>
<text transform="translate(13.3 204.4) rotate(-90)" font-size="17.5" fill="#111" text-anchor="middle">Gmo</text>
<text x="657.7" y="249.2" font-size="10.7" fill="#000">100%</text>
<text x="657.7" y="299.7" font-size="10.7" fill="#000">50%</text>
<text transform="translate(13.3 274.1) rotate(-90)" font-size="17.5" fill="#111" text-anchor="middle">Ssc</text>
<text x="657.7" y="317.9" font-size="10.7" fill="#000">100%</text>
<text x="657.7" y="368.4" font-size="10.7" fill="#000">50%</text>
<text transform="translate(13.3 343.1) rotate(-90)" font-size="17.5" fill="#111" text-anchor="middle">Tor</text>
<text x="657.7" y="386.9" font-size="10.7" fill="#000">100%</text>
<text x="657.7" y="437.6" font-size="10.7" fill="#000">50%</text>
<text transform="translate(13.3 411.6) rotate(-90)" font-size="17.5" fill="#111" text-anchor="middle">Gac</text>
<text x="657.7" y="454.7" font-size="10.7" fill="#000">100%</text>
<text x="657.7" y="505.1" font-size="10.7" fill="#000">50%</text>
<text transform="translate(13.3 479.8) rotate(-90)" font-size="17.5" fill="#111" text-anchor="middle">Tru</text>
<text x="32" y="25.6" font-size="16.8" fill="#111">Ola</text>
<text x="203.7" y="11.9" font-size="14.5" font-style="italic" fill="#000" textLength="35.6" lengthAdjust="spacingAndGlyphs">dlx1a</text>
<text x="431.7" y="10.6" font-size="14.5" font-style="italic" fill="#000" textLength="35.5" lengthAdjust="spacingAndGlyphs">dlx2a</text>
<path d="M199.8 18.1H236.4V13.4L243.2 19.7H199.8Z" fill="#000"/>
<path d="M476.9 18.2H421.4V13.2L415.4 19.7H476.9Z" fill="#000"/>
<rect x="199.4" y="20" width="12.6" height="6.1" fill="#9999ee"/>
<rect x="219.1" y="20" width="9.6" height="6.1" fill="#9999ee"/>
<rect x="232.1" y="20" width="11.1" height="6.1" fill="#9999ee"/>
<rect x="415.9" y="20" width="13.0" height="6.1" fill="#9999ee"/>
<rect x="431.2" y="20" width="8.9" height="6.1" fill="#9999ee"/>
<rect x="445.5" y="20" width="2.3" height="6.1" fill="#9999ee"/>
<rect x="459.8" y="20" width="13.2" height="6.1" fill="#9999ee"/>
<rect x="473" y="20" width="4.6" height="6.1" fill="#b0ffff"/>
<path d="M205.8 244.2L214.7 248.2L223.7 244.2L214.7 265Z" fill="#e8112d"/>
<path d="M357 244.2L366.2 248L374.7 244.2L366.2 265Z" fill="#f39325"/>
<path d="M367.5 244.2L376 248L385 244.2L376 265Z" fill="#f39325"/>
</svg>
</body></html>
